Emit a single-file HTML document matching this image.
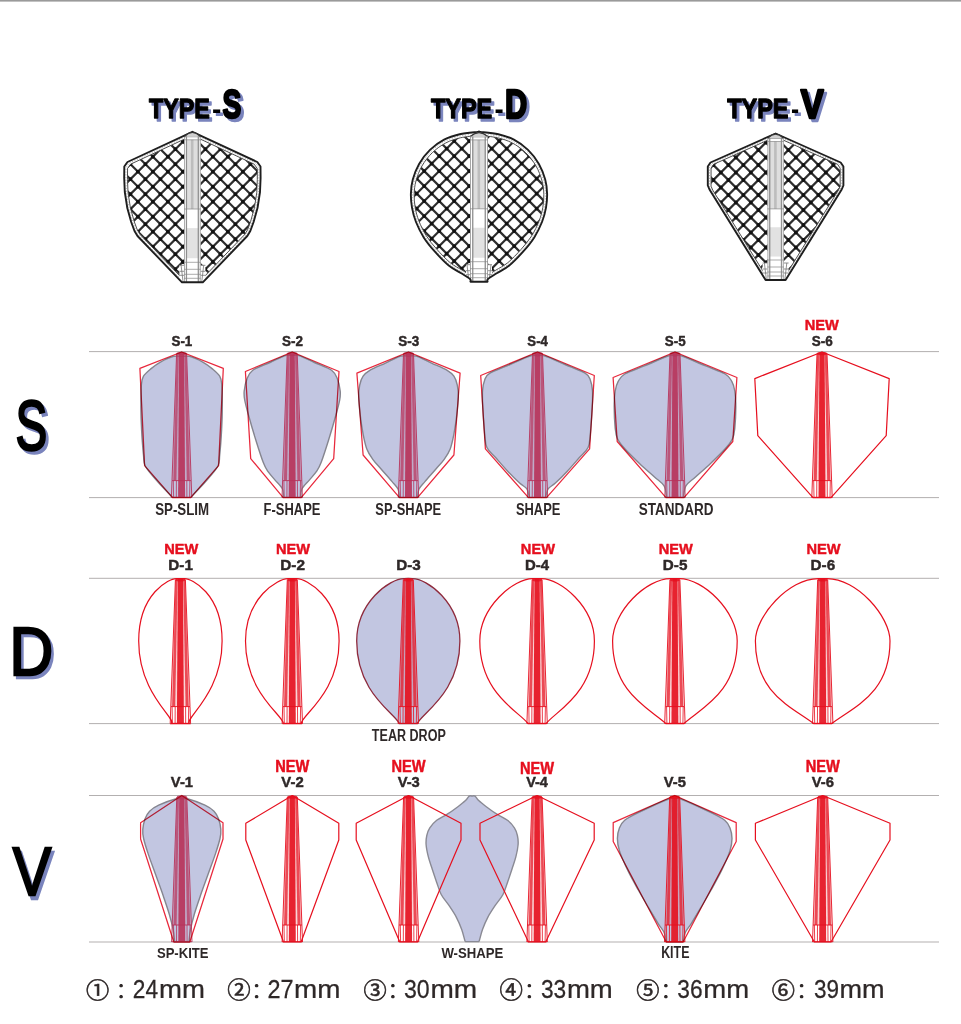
<!DOCTYPE html>
<html><head><meta charset="utf-8"><title>Flight shapes</title>
<style>html,body{margin:0;padding:0;background:#fff;overflow:hidden;width:961px;height:1024px;}svg{display:block;}</style>
</head><body>
<svg width="961" height="1024" viewBox="0 0 961 1024">
<rect width="961" height="1024" fill="#fff"/>
<rect x="0" y="0" width="961" height="1.6" fill="#9a9a9a"/>
<rect x="89" y="351.10" width="850" height="1" fill="#b3b0b0"/>
<rect x="89" y="497.10" width="850" height="1" fill="#b3b0b0"/>
<rect x="89" y="577.80" width="850" height="1" fill="#b3b0b0"/>
<rect x="89" y="723.10" width="850" height="1" fill="#b3b0b0"/>
<rect x="89" y="795.00" width="850" height="1" fill="#b3b0b0"/>
<rect x="89" y="941.50" width="850" height="1" fill="#b3b0b0"/>
<path d="M181.60,356.40 C180.28,356.40 177.30,355.42 173.70,356.40 C170.10,357.38 163.82,360.22 160.00,362.30 C156.18,364.38 153.55,366.58 150.80,368.90 C148.05,371.22 145.07,373.60 143.50,376.20 C141.93,378.80 141.83,379.30 141.40,384.50 C140.97,389.70 140.87,399.82 140.90,407.40 C140.93,414.98 141.17,422.07 141.60,430.00 C142.03,437.93 142.85,448.92 143.50,455.00 C144.15,461.08 143.08,462.00 145.50,466.50 C147.92,471.00 153.50,476.85 158.00,482.00 C162.50,487.15 170.08,494.83 172.50,497.40 L190.70,497.40 C193.12,494.83 200.70,487.15 205.20,482.00 C209.70,476.85 215.28,471.00 217.70,466.50 C220.12,462.00 219.05,461.08 219.70,455.00 C220.35,448.92 221.17,437.93 221.60,430.00 C222.03,422.07 222.27,414.98 222.30,407.40 C222.33,399.82 222.23,389.70 221.80,384.50 C221.37,379.30 221.27,378.80 219.70,376.20 C218.13,373.60 215.15,371.22 212.40,368.90 C209.65,366.58 207.02,364.38 203.20,362.30 C199.38,360.22 193.10,357.38 189.50,356.40 C185.90,355.42 182.92,356.40 181.60,356.40 Z" fill="#c2c6e1" stroke="#85858f" stroke-width="1.4"/>
<path d="M179.00,352.50 L184.20,352.50 L185.10,497.60 L178.10,497.60 Z" fill="#b8325a" opacity="0.9"/>
<path d="M176.60,353.50 L186.60,353.50 L191.20,480.60 L172.00,480.60 Z" fill="#b8325a" opacity="0.18"/>
<path d="M178.80,353.00 L176.80,353.00 L173.30,480.60 L176.40,480.60 Z" fill="#b8325a" opacity="0.7"/>
<path d="M176.60,353.50 L172.00,480.60 L171.40,497.60" fill="none" stroke="#b8325a" stroke-width="0.9"/>
<path d="M173.30,480.60 L173.60,497.60 M176.40,480.60 L176.30,497.60" fill="none" stroke="#b8325a" stroke-width="0.8"/>
<path d="M184.40,353.00 L186.40,353.00 L189.90,480.60 L186.80,480.60 Z" fill="#b8325a" opacity="0.7"/>
<path d="M186.60,353.50 L191.20,480.60 L191.80,497.60" fill="none" stroke="#b8325a" stroke-width="0.9"/>
<path d="M189.90,480.60 L189.60,497.60 M186.80,480.60 L186.90,497.60" fill="none" stroke="#b8325a" stroke-width="0.8"/>
<path d="M172.00,480.60 L191.20,480.60 M171.40,497.30 L191.80,497.30" stroke="#b8325a" stroke-width="0.9"/>
<ellipse cx="181.60" cy="353.50" rx="5" ry="1.8" fill="#b8325a" opacity="0.8"/>
<path d="M181.60,352.00 L139.90,368.40 L144.60,465.60 L172.60,497.60 L190.60,497.60 L218.60,465.60 L223.30,368.40 Z" fill="none" stroke="#e8283c" stroke-width="1.25" stroke-linejoin="round" style="mix-blend-mode:multiply"/>
<path d="M292.20,355.60 C291.08,355.60 289.20,354.45 285.50,355.60 C281.80,356.75 275.45,360.05 270.00,362.50 C264.55,364.95 256.65,367.52 252.80,370.30 C248.95,373.08 248.33,375.75 246.90,379.20 C245.47,382.65 244.57,387.53 244.20,391.00 C243.83,394.47 244.00,396.03 244.70,400.00 C245.40,403.97 246.55,408.13 248.40,414.80 C250.25,421.47 253.33,432.08 255.80,440.00 C258.27,447.92 261.22,457.10 263.20,462.30 C265.18,467.50 265.72,468.23 267.70,471.20 C269.68,474.17 272.63,477.13 275.10,480.10 C277.57,483.07 281.10,486.12 282.50,489.00 C283.90,491.88 283.33,496.00 283.50,497.40 L300.90,497.40 C301.07,496.00 300.50,491.88 301.90,489.00 C303.30,486.12 306.83,483.07 309.30,480.10 C311.77,477.13 314.72,474.17 316.70,471.20 C318.68,468.23 319.22,467.50 321.20,462.30 C323.18,457.10 326.13,447.92 328.60,440.00 C331.07,432.08 334.15,421.47 336.00,414.80 C337.85,408.13 339.00,403.97 339.70,400.00 C340.40,396.03 340.57,394.47 340.20,391.00 C339.83,387.53 338.93,382.65 337.50,379.20 C336.07,375.75 335.45,373.08 331.60,370.30 C327.75,367.52 319.85,364.95 314.40,362.50 C308.95,360.05 302.60,356.75 298.90,355.60 C295.20,354.45 293.32,355.60 292.20,355.60 Z" fill="#c2c6e1" stroke="#85858f" stroke-width="1.4"/>
<path d="M289.60,352.50 L294.80,352.50 L295.70,497.60 L288.70,497.60 Z" fill="#b8325a" opacity="0.9"/>
<path d="M287.20,353.50 L297.20,353.50 L301.80,480.60 L282.60,480.60 Z" fill="#b8325a" opacity="0.18"/>
<path d="M289.40,353.00 L287.40,353.00 L283.90,480.60 L287.00,480.60 Z" fill="#b8325a" opacity="0.7"/>
<path d="M287.20,353.50 L282.60,480.60 L282.00,497.60" fill="none" stroke="#b8325a" stroke-width="0.9"/>
<path d="M283.90,480.60 L284.20,497.60 M287.00,480.60 L286.90,497.60" fill="none" stroke="#b8325a" stroke-width="0.8"/>
<path d="M295.00,353.00 L297.00,353.00 L300.50,480.60 L297.40,480.60 Z" fill="#b8325a" opacity="0.7"/>
<path d="M297.20,353.50 L301.80,480.60 L302.40,497.60" fill="none" stroke="#b8325a" stroke-width="0.9"/>
<path d="M300.50,480.60 L300.20,497.60 M297.40,480.60 L297.50,497.60" fill="none" stroke="#b8325a" stroke-width="0.8"/>
<path d="M282.60,480.60 L301.80,480.60 M282.00,497.30 L302.40,497.30" stroke="#b8325a" stroke-width="0.9"/>
<ellipse cx="292.20" cy="353.50" rx="5" ry="1.8" fill="#b8325a" opacity="0.8"/>
<path d="M292.20,352.00 L245.40,371.50 L250.70,458.60 L283.20,497.60 L301.20,497.60 L333.70,458.60 L339.00,371.50 Z" fill="none" stroke="#e8283c" stroke-width="1.25" stroke-linejoin="round" style="mix-blend-mode:multiply"/>
<path d="M408.50,356.20 C407.25,356.20 404.92,355.02 401.00,356.20 C397.08,357.38 390.20,360.95 385.00,363.30 C379.80,365.65 373.45,368.15 369.80,370.30 C366.15,372.45 364.78,373.73 363.10,376.20 C361.42,378.67 360.43,381.63 359.70,385.10 C358.97,388.57 358.62,392.05 358.70,397.00 C358.78,401.95 359.47,408.62 360.20,414.80 C360.93,420.98 362.00,428.42 363.10,434.10 C364.20,439.78 365.18,444.70 366.80,448.90 C368.42,453.10 370.32,455.83 372.80,459.30 C375.28,462.77 378.48,465.98 381.70,469.70 C384.92,473.42 389.38,478.38 392.10,481.60 C394.82,484.82 396.77,486.37 398.00,489.00 C399.23,491.63 399.25,496.00 399.50,497.40 L417.50,497.40 C417.75,496.00 417.77,491.63 419.00,489.00 C420.23,486.37 422.18,484.82 424.90,481.60 C427.62,478.38 432.08,473.42 435.30,469.70 C438.52,465.98 441.72,462.77 444.20,459.30 C446.68,455.83 448.58,453.10 450.20,448.90 C451.82,444.70 452.80,439.78 453.90,434.10 C455.00,428.42 456.07,420.98 456.80,414.80 C457.53,408.62 458.22,401.95 458.30,397.00 C458.38,392.05 458.03,388.57 457.30,385.10 C456.57,381.63 455.58,378.67 453.90,376.20 C452.22,373.73 450.85,372.45 447.20,370.30 C443.55,368.15 437.20,365.65 432.00,363.30 C426.80,360.95 419.92,357.38 416.00,356.20 C412.08,355.02 409.75,356.20 408.50,356.20 Z" fill="#c2c6e1" stroke="#85858f" stroke-width="1.4"/>
<path d="M405.90,352.50 L411.10,352.50 L412.00,497.60 L405.00,497.60 Z" fill="#b8325a" opacity="0.9"/>
<path d="M403.50,353.50 L413.50,353.50 L418.10,480.60 L398.90,480.60 Z" fill="#b8325a" opacity="0.18"/>
<path d="M405.70,353.00 L403.70,353.00 L400.20,480.60 L403.30,480.60 Z" fill="#b8325a" opacity="0.7"/>
<path d="M403.50,353.50 L398.90,480.60 L398.30,497.60" fill="none" stroke="#b8325a" stroke-width="0.9"/>
<path d="M400.20,480.60 L400.50,497.60 M403.30,480.60 L403.20,497.60" fill="none" stroke="#b8325a" stroke-width="0.8"/>
<path d="M411.30,353.00 L413.30,353.00 L416.80,480.60 L413.70,480.60 Z" fill="#b8325a" opacity="0.7"/>
<path d="M413.50,353.50 L418.10,480.60 L418.70,497.60" fill="none" stroke="#b8325a" stroke-width="0.9"/>
<path d="M416.80,480.60 L416.50,497.60 M413.70,480.60 L413.80,497.60" fill="none" stroke="#b8325a" stroke-width="0.8"/>
<path d="M398.90,480.60 L418.10,480.60 M398.30,497.30 L418.70,497.30" stroke="#b8325a" stroke-width="0.9"/>
<ellipse cx="408.50" cy="353.50" rx="5" ry="1.8" fill="#b8325a" opacity="0.8"/>
<path d="M408.50,352.00 L356.90,373.20 L363.10,455.00 L399.50,497.60 L417.50,497.60 L453.90,455.00 L460.10,373.20 Z" fill="none" stroke="#e8283c" stroke-width="1.25" stroke-linejoin="round" style="mix-blend-mode:multiply"/>
<path d="M537.50,356.00 C536.25,356.00 534.58,354.58 530.00,356.00 C525.42,357.42 516.68,361.63 510.00,364.50 C503.32,367.37 494.12,370.63 489.90,373.20 C485.68,375.77 485.93,376.93 484.70,379.90 C483.47,382.87 482.82,386.42 482.50,391.00 C482.18,395.58 482.43,400.22 482.80,407.40 C483.17,414.58 484.02,427.42 484.70,434.10 C485.38,440.78 485.05,443.55 486.90,447.50 C488.75,451.45 492.33,453.85 495.80,457.80 C499.27,461.75 503.73,466.98 507.70,471.20 C511.67,475.42 516.38,480.13 519.60,483.10 C522.82,486.07 525.40,486.62 527.00,489.00 C528.60,491.38 528.83,496.00 529.20,497.40 L545.80,497.40 C546.17,496.00 546.40,491.38 548.00,489.00 C549.60,486.62 552.18,486.07 555.40,483.10 C558.62,480.13 563.33,475.42 567.30,471.20 C571.27,466.98 575.73,461.75 579.20,457.80 C582.67,453.85 586.25,451.45 588.10,447.50 C589.95,443.55 589.62,440.78 590.30,434.10 C590.98,427.42 591.83,414.58 592.20,407.40 C592.57,400.22 592.82,395.58 592.50,391.00 C592.18,386.42 591.53,382.87 590.30,379.90 C589.07,376.93 589.32,375.77 585.10,373.20 C580.88,370.63 571.68,367.37 565.00,364.50 C558.32,361.63 549.58,357.42 545.00,356.00 C540.42,354.58 538.75,356.00 537.50,356.00 Z" fill="#c2c6e1" stroke="#85858f" stroke-width="1.4"/>
<path d="M534.90,352.50 L540.10,352.50 L541.00,497.60 L534.00,497.60 Z" fill="#b8325a" opacity="0.9"/>
<path d="M532.50,353.50 L542.50,353.50 L547.10,480.60 L527.90,480.60 Z" fill="#b8325a" opacity="0.18"/>
<path d="M534.70,353.00 L532.70,353.00 L529.20,480.60 L532.30,480.60 Z" fill="#b8325a" opacity="0.7"/>
<path d="M532.50,353.50 L527.90,480.60 L527.30,497.60" fill="none" stroke="#b8325a" stroke-width="0.9"/>
<path d="M529.20,480.60 L529.50,497.60 M532.30,480.60 L532.20,497.60" fill="none" stroke="#b8325a" stroke-width="0.8"/>
<path d="M540.30,353.00 L542.30,353.00 L545.80,480.60 L542.70,480.60 Z" fill="#b8325a" opacity="0.7"/>
<path d="M542.50,353.50 L547.10,480.60 L547.70,497.60" fill="none" stroke="#b8325a" stroke-width="0.9"/>
<path d="M545.80,480.60 L545.50,497.60 M542.70,480.60 L542.80,497.60" fill="none" stroke="#b8325a" stroke-width="0.8"/>
<path d="M527.90,480.60 L547.10,480.60 M527.30,497.30 L547.70,497.30" stroke="#b8325a" stroke-width="0.9"/>
<ellipse cx="537.50" cy="353.50" rx="5" ry="1.8" fill="#b8325a" opacity="0.8"/>
<path d="M537.50,352.00 L480.70,375.50 L485.40,448.90 L528.50,497.60 L546.50,497.60 L589.60,448.90 L594.30,375.50 Z" fill="none" stroke="#e8283c" stroke-width="1.25" stroke-linejoin="round" style="mix-blend-mode:multiply"/>
<path d="M675.00,356.00 C673.83,356.00 673.00,354.38 668.00,356.00 C663.00,357.62 652.20,362.70 645.00,365.70 C637.80,368.70 629.27,371.38 624.80,374.00 C620.33,376.62 619.80,378.57 618.20,381.40 C616.60,384.23 615.87,386.68 615.20,391.00 C614.53,395.32 614.20,401.12 614.20,407.30 C614.20,413.48 614.67,422.90 615.20,428.10 C615.73,433.30 615.80,435.05 617.40,438.50 C619.00,441.95 621.08,444.60 624.80,448.80 C628.52,453.00 634.75,459.00 639.70,463.70 C644.65,468.40 650.43,473.30 654.50,477.00 C658.57,480.70 662.10,482.50 664.10,485.90 C666.10,489.30 666.10,495.48 666.50,497.40 L683.50,497.40 C683.90,495.48 683.90,489.30 685.90,485.90 C687.90,482.50 691.43,480.70 695.50,477.00 C699.57,473.30 705.35,468.40 710.30,463.70 C715.25,459.00 721.48,453.00 725.20,448.80 C728.92,444.60 731.00,441.95 732.60,438.50 C734.20,435.05 734.27,433.30 734.80,428.10 C735.33,422.90 735.80,413.48 735.80,407.30 C735.80,401.12 735.47,395.32 734.80,391.00 C734.13,386.68 733.40,384.23 731.80,381.40 C730.20,378.57 729.67,376.62 725.20,374.00 C720.73,371.38 712.20,368.70 705.00,365.70 C697.80,362.70 687.00,357.62 682.00,356.00 C677.00,354.38 676.17,356.00 675.00,356.00 Z" fill="#c2c6e1" stroke="#85858f" stroke-width="1.4"/>
<path d="M672.40,352.50 L677.60,352.50 L678.50,497.60 L671.50,497.60 Z" fill="#b8325a" opacity="0.9"/>
<path d="M670.00,353.50 L680.00,353.50 L684.60,480.60 L665.40,480.60 Z" fill="#b8325a" opacity="0.18"/>
<path d="M672.20,353.00 L670.20,353.00 L666.70,480.60 L669.80,480.60 Z" fill="#b8325a" opacity="0.7"/>
<path d="M670.00,353.50 L665.40,480.60 L664.80,497.60" fill="none" stroke="#b8325a" stroke-width="0.9"/>
<path d="M666.70,480.60 L667.00,497.60 M669.80,480.60 L669.70,497.60" fill="none" stroke="#b8325a" stroke-width="0.8"/>
<path d="M677.80,353.00 L679.80,353.00 L683.30,480.60 L680.20,480.60 Z" fill="#b8325a" opacity="0.7"/>
<path d="M680.00,353.50 L684.60,480.60 L685.20,497.60" fill="none" stroke="#b8325a" stroke-width="0.9"/>
<path d="M683.30,480.60 L683.00,497.60 M680.20,480.60 L680.30,497.60" fill="none" stroke="#b8325a" stroke-width="0.8"/>
<path d="M665.40,480.60 L684.60,480.60 M664.80,497.30 L685.20,497.30" stroke="#b8325a" stroke-width="0.9"/>
<ellipse cx="675.00" cy="353.50" rx="5" ry="1.8" fill="#b8325a" opacity="0.8"/>
<path d="M675.00,352.00 L613.10,377.50 L617.20,441.50 L666.00,497.60 L684.00,497.60 L732.80,441.50 L736.90,377.50 Z" fill="none" stroke="#e8283c" stroke-width="1.25" stroke-linejoin="round" style="mix-blend-mode:multiply"/>
<path d="M819.40,352.50 L824.60,352.50 L825.50,497.60 L818.50,497.60 Z" fill="#e60f1e" opacity="0.9"/>
<path d="M817.00,353.50 L827.00,353.50 L831.60,480.60 L812.40,480.60 Z" fill="#e60f1e" opacity="0.18"/>
<path d="M819.20,353.00 L817.20,353.00 L813.70,480.60 L816.80,480.60 Z" fill="#e60f1e" opacity="0.7"/>
<path d="M817.00,353.50 L812.40,480.60 L811.80,497.60" fill="none" stroke="#e60f1e" stroke-width="0.9"/>
<path d="M813.70,480.60 L814.00,497.60 M816.80,480.60 L816.70,497.60" fill="none" stroke="#e60f1e" stroke-width="0.8"/>
<path d="M824.80,353.00 L826.80,353.00 L830.30,480.60 L827.20,480.60 Z" fill="#e60f1e" opacity="0.7"/>
<path d="M827.00,353.50 L831.60,480.60 L832.20,497.60" fill="none" stroke="#e60f1e" stroke-width="0.9"/>
<path d="M830.30,480.60 L830.00,497.60 M827.20,480.60 L827.30,497.60" fill="none" stroke="#e60f1e" stroke-width="0.8"/>
<path d="M812.40,480.60 L831.60,480.60 M811.80,497.30 L832.20,497.30" stroke="#e60f1e" stroke-width="0.9"/>
<ellipse cx="822.00" cy="353.50" rx="5" ry="1.8" fill="#e60f1e" opacity="0.8"/>
<path d="M822.00,352.00 L754.80,378.60 L757.80,435.60 L813.00,497.60 L831.00,497.60 L886.20,435.60 L889.20,378.60 Z" fill="none" stroke="#e60f1e" stroke-width="1.2" stroke-linejoin="round"/>
<path d="M177.80,578.80 L183.00,578.80 L183.90,723.60 L176.90,723.60 Z" fill="#e60f1e" opacity="0.9"/>
<path d="M175.40,579.80 L185.40,579.80 L190.00,706.60 L170.80,706.60 Z" fill="#e60f1e" opacity="0.18"/>
<path d="M177.60,579.30 L175.60,579.30 L172.10,706.60 L175.20,706.60 Z" fill="#e60f1e" opacity="0.7"/>
<path d="M175.40,579.80 L170.80,706.60 L170.20,723.60" fill="none" stroke="#e60f1e" stroke-width="0.9"/>
<path d="M172.10,706.60 L172.40,723.60 M175.20,706.60 L175.10,723.60" fill="none" stroke="#e60f1e" stroke-width="0.8"/>
<path d="M183.20,579.30 L185.20,579.30 L188.70,706.60 L185.60,706.60 Z" fill="#e60f1e" opacity="0.7"/>
<path d="M185.40,579.80 L190.00,706.60 L190.60,723.60" fill="none" stroke="#e60f1e" stroke-width="0.9"/>
<path d="M188.70,706.60 L188.40,723.60 M185.60,706.60 L185.70,723.60" fill="none" stroke="#e60f1e" stroke-width="0.8"/>
<path d="M170.80,706.60 L190.00,706.60 M170.20,723.30 L190.60,723.30" stroke="#e60f1e" stroke-width="0.9"/>
<ellipse cx="180.40" cy="579.80" rx="5" ry="1.8" fill="#e60f1e" opacity="0.8"/>
<path d="M180.40,578.50 L184.40,578.60 C191.24,578.30 222.10,593.20 222.10,641.00 C222.10,694.00 184.15,718.60 189.40,723.60 L171.40,723.60 C176.65,718.60 138.70,694.00 138.70,641.00 C138.70,593.20 169.56,578.30 176.40,578.60 Z" fill="none" stroke="#e60f1e" stroke-width="1.2"/>
<path d="M289.70,578.80 L294.90,578.80 L295.80,723.60 L288.80,723.60 Z" fill="#e60f1e" opacity="0.9"/>
<path d="M287.30,579.80 L297.30,579.80 L301.90,706.60 L282.70,706.60 Z" fill="#e60f1e" opacity="0.18"/>
<path d="M289.50,579.30 L287.50,579.30 L284.00,706.60 L287.10,706.60 Z" fill="#e60f1e" opacity="0.7"/>
<path d="M287.30,579.80 L282.70,706.60 L282.10,723.60" fill="none" stroke="#e60f1e" stroke-width="0.9"/>
<path d="M284.00,706.60 L284.30,723.60 M287.10,706.60 L287.00,723.60" fill="none" stroke="#e60f1e" stroke-width="0.8"/>
<path d="M295.10,579.30 L297.10,579.30 L300.60,706.60 L297.50,706.60 Z" fill="#e60f1e" opacity="0.7"/>
<path d="M297.30,579.80 L301.90,706.60 L302.50,723.60" fill="none" stroke="#e60f1e" stroke-width="0.9"/>
<path d="M300.60,706.60 L300.30,723.60 M297.50,706.60 L297.60,723.60" fill="none" stroke="#e60f1e" stroke-width="0.8"/>
<path d="M282.70,706.60 L301.90,706.60 M282.10,723.30 L302.50,723.30" stroke="#e60f1e" stroke-width="0.9"/>
<ellipse cx="292.30" cy="579.80" rx="5" ry="1.8" fill="#e60f1e" opacity="0.8"/>
<path d="M292.30,578.50 L296.30,578.60 C306.81,578.30 339.10,597.86 339.10,641.00 C339.10,693.80 300.16,716.12 301.30,723.60 L283.30,723.60 C284.44,716.12 245.50,693.80 245.50,641.00 C245.50,597.86 277.79,578.30 288.30,578.60 Z" fill="none" stroke="#e60f1e" stroke-width="1.2"/>
<path d="M408.30,578.50 L412.30,578.60 C426.88,578.30 459.90,602.52 459.90,641.00 C459.90,693.60 420.99,713.64 417.30,723.60 L399.30,723.60 C395.61,713.64 356.70,693.60 356.70,641.00 C356.70,602.52 389.72,578.30 404.30,578.60 Z" fill="#c2c6e1" stroke="#8e2a3c" stroke-width="1.3"/>
<path d="M405.70,578.80 L410.90,578.80 L411.80,723.60 L404.80,723.60 Z" fill="#e60f1e" opacity="0.9"/>
<path d="M403.30,579.80 L413.30,579.80 L417.90,706.60 L398.70,706.60 Z" fill="#e60f1e" opacity="0.18"/>
<path d="M405.50,579.30 L403.50,579.30 L400.00,706.60 L403.10,706.60 Z" fill="#e60f1e" opacity="0.7"/>
<path d="M403.30,579.80 L398.70,706.60 L398.10,723.60" fill="none" stroke="#e60f1e" stroke-width="0.9"/>
<path d="M400.00,706.60 L400.30,723.60 M403.10,706.60 L403.00,723.60" fill="none" stroke="#e60f1e" stroke-width="0.8"/>
<path d="M411.10,579.30 L413.10,579.30 L416.60,706.60 L413.50,706.60 Z" fill="#e60f1e" opacity="0.7"/>
<path d="M413.30,579.80 L417.90,706.60 L418.50,723.60" fill="none" stroke="#e60f1e" stroke-width="0.9"/>
<path d="M416.60,706.60 L416.30,723.60 M413.50,706.60 L413.60,723.60" fill="none" stroke="#e60f1e" stroke-width="0.8"/>
<path d="M398.70,706.60 L417.90,706.60 M398.10,723.30 L418.50,723.30" stroke="#e60f1e" stroke-width="0.9"/>
<ellipse cx="408.30" cy="579.80" rx="5" ry="1.8" fill="#e60f1e" opacity="0.8"/>
<path d="M534.50,578.80 L539.70,578.80 L540.60,723.60 L533.60,723.60 Z" fill="#e60f1e" opacity="0.9"/>
<path d="M532.10,579.80 L542.10,579.80 L546.70,706.60 L527.50,706.60 Z" fill="#e60f1e" opacity="0.18"/>
<path d="M534.30,579.30 L532.30,579.30 L528.80,706.60 L531.90,706.60 Z" fill="#e60f1e" opacity="0.7"/>
<path d="M532.10,579.80 L527.50,706.60 L526.90,723.60" fill="none" stroke="#e60f1e" stroke-width="0.9"/>
<path d="M528.80,706.60 L529.10,723.60 M531.90,706.60 L531.80,723.60" fill="none" stroke="#e60f1e" stroke-width="0.8"/>
<path d="M539.90,579.30 L541.90,579.30 L545.40,706.60 L542.30,706.60 Z" fill="#e60f1e" opacity="0.7"/>
<path d="M542.10,579.80 L546.70,706.60 L547.30,723.60" fill="none" stroke="#e60f1e" stroke-width="0.9"/>
<path d="M545.40,706.60 L545.10,723.60 M542.30,706.60 L542.40,723.60" fill="none" stroke="#e60f1e" stroke-width="0.8"/>
<path d="M527.50,706.60 L546.70,706.60 M526.90,723.30 L547.30,723.30" stroke="#e60f1e" stroke-width="0.9"/>
<ellipse cx="537.10" cy="579.80" rx="5" ry="1.8" fill="#e60f1e" opacity="0.8"/>
<path d="M537.10,578.50 L541.10,578.60 C560.59,578.30 594.40,607.18 594.40,641.00 C594.40,693.40 555.67,711.16 546.10,723.60 L528.10,723.60 C518.53,711.16 479.80,693.40 479.80,641.00 C479.80,607.18 513.61,578.30 533.10,578.60 Z" fill="none" stroke="#e60f1e" stroke-width="1.2"/>
<path d="M672.30,578.80 L677.50,578.80 L678.40,723.60 L671.40,723.60 Z" fill="#e60f1e" opacity="0.9"/>
<path d="M669.90,579.80 L679.90,579.80 L684.50,706.60 L665.30,706.60 Z" fill="#e60f1e" opacity="0.18"/>
<path d="M672.10,579.30 L670.10,579.30 L666.60,706.60 L669.70,706.60 Z" fill="#e60f1e" opacity="0.7"/>
<path d="M669.90,579.80 L665.30,706.60 L664.70,723.60" fill="none" stroke="#e60f1e" stroke-width="0.9"/>
<path d="M666.60,706.60 L666.90,723.60 M669.70,706.60 L669.60,723.60" fill="none" stroke="#e60f1e" stroke-width="0.8"/>
<path d="M677.70,579.30 L679.70,579.30 L683.20,706.60 L680.10,706.60 Z" fill="#e60f1e" opacity="0.7"/>
<path d="M679.90,579.80 L684.50,706.60 L685.10,723.60" fill="none" stroke="#e60f1e" stroke-width="0.9"/>
<path d="M683.20,706.60 L682.90,723.60 M680.10,706.60 L680.20,723.60" fill="none" stroke="#e60f1e" stroke-width="0.8"/>
<path d="M665.30,706.60 L684.50,706.60 M664.70,723.30 L685.10,723.30" stroke="#e60f1e" stroke-width="0.9"/>
<ellipse cx="674.90" cy="579.80" rx="5" ry="1.8" fill="#e60f1e" opacity="0.8"/>
<path d="M674.90,578.50 L678.90,578.60 C703.56,578.30 737.20,611.84 737.20,641.00 C737.20,693.20 699.94,708.68 683.90,723.60 L665.90,723.60 C649.86,708.68 612.60,693.20 612.60,641.00 C612.60,611.84 646.24,578.30 670.90,578.60 Z" fill="none" stroke="#e60f1e" stroke-width="1.2"/>
<path d="M820.10,578.80 L825.30,578.80 L826.20,723.60 L819.20,723.60 Z" fill="#e60f1e" opacity="0.9"/>
<path d="M817.70,579.80 L827.70,579.80 L832.30,706.60 L813.10,706.60 Z" fill="#e60f1e" opacity="0.18"/>
<path d="M819.90,579.30 L817.90,579.30 L814.40,706.60 L817.50,706.60 Z" fill="#e60f1e" opacity="0.7"/>
<path d="M817.70,579.80 L813.10,706.60 L812.50,723.60" fill="none" stroke="#e60f1e" stroke-width="0.9"/>
<path d="M814.40,706.60 L814.70,723.60 M817.50,706.60 L817.40,723.60" fill="none" stroke="#e60f1e" stroke-width="0.8"/>
<path d="M825.50,579.30 L827.50,579.30 L831.00,706.60 L827.90,706.60 Z" fill="#e60f1e" opacity="0.7"/>
<path d="M827.70,579.80 L832.30,706.60 L832.90,723.60" fill="none" stroke="#e60f1e" stroke-width="0.9"/>
<path d="M831.00,706.60 L830.70,723.60 M827.90,706.60 L828.00,723.60" fill="none" stroke="#e60f1e" stroke-width="0.8"/>
<path d="M813.10,706.60 L832.30,706.60 M812.50,723.30 L832.90,723.30" stroke="#e60f1e" stroke-width="0.9"/>
<ellipse cx="822.70" cy="579.80" rx="5" ry="1.8" fill="#e60f1e" opacity="0.8"/>
<path d="M822.70,578.50 L826.70,578.60 C857.02,578.30 890.00,616.50 890.00,641.00 C890.00,693.00 855.00,706.20 831.70,723.60 L813.70,723.60 C790.40,706.20 755.40,693.00 755.40,641.00 C755.40,616.50 788.38,578.30 818.70,578.60 Z" fill="none" stroke="#e60f1e" stroke-width="1.2"/>
<path d="M472.10,796.10 C471.62,796.10 470.30,795.35 469.20,796.10 C468.10,796.85 467.38,798.83 465.50,800.60 C463.62,802.37 460.93,804.43 457.90,806.70 C454.87,808.97 450.83,811.93 447.30,814.20 C443.77,816.47 439.62,818.02 436.70,820.30 C433.78,822.58 431.45,825.37 429.80,827.90 C428.15,830.43 427.42,832.73 426.80,835.50 C426.18,838.27 425.85,840.97 426.10,844.50 C426.35,848.03 427.30,852.65 428.30,856.70 C429.30,860.75 430.70,864.52 432.10,868.80 C433.50,873.08 435.18,878.12 436.70,882.40 C438.22,886.68 439.18,890.70 441.20,894.50 C443.22,898.30 446.27,901.40 448.80,905.20 C451.33,909.00 454.25,913.27 456.40,917.30 C458.55,921.33 460.32,925.62 461.70,929.40 C463.08,933.18 464.07,937.97 464.70,940.00 C465.33,942.03 465.37,941.33 465.50,941.60 L478.70,941.60 C478.83,941.33 478.87,942.03 479.50,940.00 C480.13,937.97 481.12,933.18 482.50,929.40 C483.88,925.62 485.65,921.33 487.80,917.30 C489.95,913.27 492.87,909.00 495.40,905.20 C497.93,901.40 500.98,898.30 503.00,894.50 C505.02,890.70 505.98,886.68 507.50,882.40 C509.02,878.12 510.70,873.08 512.10,868.80 C513.50,864.52 514.90,860.75 515.90,856.70 C516.90,852.65 517.85,848.03 518.10,844.50 C518.35,840.97 518.02,838.27 517.40,835.50 C516.78,832.73 516.05,830.43 514.40,827.90 C512.75,825.37 510.42,822.58 507.50,820.30 C504.58,818.02 500.43,816.47 496.90,814.20 C493.37,811.93 489.33,808.97 486.30,806.70 C483.27,804.43 480.58,802.37 478.70,800.60 C476.82,798.83 476.10,796.85 475.00,796.10 C473.90,795.35 472.58,796.10 472.10,796.10 Z" fill="#c2c6e1" stroke="#8a8a94" stroke-width="1.4"/>
<path d="M181.80,799.00 C180.73,799.00 179.25,797.97 175.40,799.00 C171.55,800.03 163.00,803.17 158.70,805.20 C154.40,807.23 151.87,808.93 149.60,811.20 C147.33,813.47 146.23,815.77 145.10,818.80 C143.97,821.83 143.05,826.12 142.80,829.40 C142.55,832.68 142.72,834.47 143.60,838.50 C144.48,842.53 146.08,847.55 148.10,853.60 C150.12,859.65 153.17,867.73 155.70,874.80 C158.23,881.87 161.03,889.43 163.30,896.00 C165.57,902.57 167.67,908.63 169.30,914.20 C170.93,919.77 172.22,924.83 173.10,929.40 C173.98,933.97 174.35,939.57 174.60,941.60 L189.00,941.60 C189.25,939.57 189.62,933.97 190.50,929.40 C191.38,924.83 192.67,919.77 194.30,914.20 C195.93,908.63 198.03,902.57 200.30,896.00 C202.57,889.43 205.37,881.87 207.90,874.80 C210.43,867.73 213.48,859.65 215.50,853.60 C217.52,847.55 219.12,842.53 220.00,838.50 C220.88,834.47 221.05,832.68 220.80,829.40 C220.55,826.12 219.63,821.83 218.50,818.80 C217.37,815.77 216.27,813.47 214.00,811.20 C211.73,808.93 209.20,807.23 204.90,805.20 C200.60,803.17 192.05,800.03 188.20,799.00 C184.35,797.97 182.87,799.00 181.80,799.00 Z" fill="#c2c6e1" stroke="#85858f" stroke-width="1.4"/>
<path d="M179.20,796.00 L184.40,796.00 L185.30,942.00 L178.30,942.00 Z" fill="#b8325a" opacity="0.9"/>
<path d="M176.80,797.00 L186.80,797.00 L191.40,925.00 L172.20,925.00 Z" fill="#b8325a" opacity="0.18"/>
<path d="M179.00,796.50 L177.00,796.50 L173.50,925.00 L176.60,925.00 Z" fill="#b8325a" opacity="0.7"/>
<path d="M176.80,797.00 L172.20,925.00 L171.60,942.00" fill="none" stroke="#b8325a" stroke-width="0.9"/>
<path d="M173.50,925.00 L173.80,942.00 M176.60,925.00 L176.50,942.00" fill="none" stroke="#b8325a" stroke-width="0.8"/>
<path d="M184.60,796.50 L186.60,796.50 L190.10,925.00 L187.00,925.00 Z" fill="#b8325a" opacity="0.7"/>
<path d="M186.80,797.00 L191.40,925.00 L192.00,942.00" fill="none" stroke="#b8325a" stroke-width="0.9"/>
<path d="M190.10,925.00 L189.80,942.00 M187.00,925.00 L187.10,942.00" fill="none" stroke="#b8325a" stroke-width="0.8"/>
<path d="M172.20,925.00 L191.40,925.00 M171.60,941.70 L192.00,941.70" stroke="#b8325a" stroke-width="0.9"/>
<ellipse cx="181.80" cy="797.00" rx="5" ry="1.8" fill="#b8325a" opacity="0.8"/>
<path d="M181.80,795.50 L140.60,822.80 L140.60,839.00 L173.80,942.00 L189.80,942.00 L223.00,839.00 L223.00,822.80 Z" fill="none" stroke="#e8283c" stroke-width="1.25" stroke-linejoin="round" style="mix-blend-mode:multiply"/>
<path d="M289.70,796.00 L294.90,796.00 L295.80,942.00 L288.80,942.00 Z" fill="#e60f1e" opacity="0.9"/>
<path d="M287.30,797.00 L297.30,797.00 L301.90,925.00 L282.70,925.00 Z" fill="#e60f1e" opacity="0.18"/>
<path d="M289.50,796.50 L287.50,796.50 L284.00,925.00 L287.10,925.00 Z" fill="#e60f1e" opacity="0.7"/>
<path d="M287.30,797.00 L282.70,925.00 L282.10,942.00" fill="none" stroke="#e60f1e" stroke-width="0.9"/>
<path d="M284.00,925.00 L284.30,942.00 M287.10,925.00 L287.00,942.00" fill="none" stroke="#e60f1e" stroke-width="0.8"/>
<path d="M295.10,796.50 L297.10,796.50 L300.60,925.00 L297.50,925.00 Z" fill="#e60f1e" opacity="0.7"/>
<path d="M297.30,797.00 L301.90,925.00 L302.50,942.00" fill="none" stroke="#e60f1e" stroke-width="0.9"/>
<path d="M300.60,925.00 L300.30,942.00 M297.50,925.00 L297.60,942.00" fill="none" stroke="#e60f1e" stroke-width="0.8"/>
<path d="M282.70,925.00 L301.90,925.00 M282.10,941.70 L302.50,941.70" stroke="#e60f1e" stroke-width="0.9"/>
<ellipse cx="292.30" cy="797.00" rx="5" ry="1.8" fill="#e60f1e" opacity="0.8"/>
<path d="M292.30,795.50 L245.80,823.30 L245.80,840.00 L283.50,942.00 L301.10,942.00 L338.80,840.00 L338.80,823.30 Z" fill="none" stroke="#e60f1e" stroke-width="1.2" stroke-linejoin="round"/>
<path d="M406.00,796.00 L411.20,796.00 L412.10,942.00 L405.10,942.00 Z" fill="#e60f1e" opacity="0.9"/>
<path d="M403.60,797.00 L413.60,797.00 L418.20,925.00 L399.00,925.00 Z" fill="#e60f1e" opacity="0.18"/>
<path d="M405.80,796.50 L403.80,796.50 L400.30,925.00 L403.40,925.00 Z" fill="#e60f1e" opacity="0.7"/>
<path d="M403.60,797.00 L399.00,925.00 L398.40,942.00" fill="none" stroke="#e60f1e" stroke-width="0.9"/>
<path d="M400.30,925.00 L400.60,942.00 M403.40,925.00 L403.30,942.00" fill="none" stroke="#e60f1e" stroke-width="0.8"/>
<path d="M411.40,796.50 L413.40,796.50 L416.90,925.00 L413.80,925.00 Z" fill="#e60f1e" opacity="0.7"/>
<path d="M413.60,797.00 L418.20,925.00 L418.80,942.00" fill="none" stroke="#e60f1e" stroke-width="0.9"/>
<path d="M416.90,925.00 L416.60,942.00 M413.80,925.00 L413.90,942.00" fill="none" stroke="#e60f1e" stroke-width="0.8"/>
<path d="M399.00,925.00 L418.20,925.00 M398.40,941.70 L418.80,941.70" stroke="#e60f1e" stroke-width="0.9"/>
<ellipse cx="408.60" cy="797.00" rx="5" ry="1.8" fill="#e60f1e" opacity="0.8"/>
<path d="M408.60,795.50 L356.20,823.30 L356.20,840.00 L399.80,942.00 L417.40,942.00 L461.00,840.00 L461.00,823.30 Z" fill="none" stroke="#e60f1e" stroke-width="1.2" stroke-linejoin="round"/>
<path d="M534.50,796.00 L539.70,796.00 L540.60,942.00 L533.60,942.00 Z" fill="#e60f1e" opacity="0.9"/>
<path d="M532.10,797.00 L542.10,797.00 L546.70,925.00 L527.50,925.00 Z" fill="#e60f1e" opacity="0.18"/>
<path d="M534.30,796.50 L532.30,796.50 L528.80,925.00 L531.90,925.00 Z" fill="#e60f1e" opacity="0.7"/>
<path d="M532.10,797.00 L527.50,925.00 L526.90,942.00" fill="none" stroke="#e60f1e" stroke-width="0.9"/>
<path d="M528.80,925.00 L529.10,942.00 M531.90,925.00 L531.80,942.00" fill="none" stroke="#e60f1e" stroke-width="0.8"/>
<path d="M539.90,796.50 L541.90,796.50 L545.40,925.00 L542.30,925.00 Z" fill="#e60f1e" opacity="0.7"/>
<path d="M542.10,797.00 L546.70,925.00 L547.30,942.00" fill="none" stroke="#e60f1e" stroke-width="0.9"/>
<path d="M545.40,925.00 L545.10,942.00 M542.30,925.00 L542.40,942.00" fill="none" stroke="#e60f1e" stroke-width="0.8"/>
<path d="M527.50,925.00 L546.70,925.00 M526.90,941.70 L547.30,941.70" stroke="#e60f1e" stroke-width="0.9"/>
<ellipse cx="537.10" cy="797.00" rx="5" ry="1.8" fill="#e60f1e" opacity="0.8"/>
<path d="M537.10,795.50 L480.00,823.30 L480.00,840.00 L528.50,942.00 L545.70,942.00 L594.20,840.00 L594.20,823.30 Z" fill="none" stroke="#e60f1e" stroke-width="1.2" stroke-linejoin="round"/>
<path d="M674.70,799.00 C673.68,799.00 674.67,796.72 668.60,799.00 C662.53,801.28 645.62,809.15 638.30,812.70 C630.98,816.25 627.85,817.77 624.70,820.30 C621.55,822.83 620.62,824.87 619.40,827.90 C618.18,830.93 617.40,834.72 617.40,838.50 C617.40,842.28 617.68,845.30 619.40,850.60 C621.12,855.90 624.55,863.73 627.70,870.30 C630.85,876.87 634.77,883.68 638.30,890.00 C641.83,896.32 645.62,902.65 648.90,908.20 C652.18,913.75 655.47,919.27 658.00,923.30 C660.53,927.33 662.72,929.35 664.10,932.40 C665.48,935.45 665.93,940.07 666.30,941.60 L683.10,941.60 C683.47,940.07 683.92,935.45 685.30,932.40 C686.68,929.35 688.87,927.33 691.40,923.30 C693.93,919.27 697.22,913.75 700.50,908.20 C703.78,902.65 707.57,896.32 711.10,890.00 C714.63,883.68 718.55,876.87 721.70,870.30 C724.85,863.73 728.28,855.90 730.00,850.60 C731.72,845.30 732.00,842.28 732.00,838.50 C732.00,834.72 731.22,830.93 730.00,827.90 C728.78,824.87 727.85,822.83 724.70,820.30 C721.55,817.77 718.42,816.25 711.10,812.70 C703.78,809.15 686.87,801.28 680.80,799.00 C674.73,796.72 675.72,799.00 674.70,799.00 Z" fill="#c2c6e1" stroke="#85858f" stroke-width="1.4"/>
<path d="M672.10,796.00 L677.30,796.00 L678.20,942.00 L671.20,942.00 Z" fill="#e60f1e" opacity="0.9"/>
<path d="M669.70,797.00 L679.70,797.00 L684.30,925.00 L665.10,925.00 Z" fill="#e60f1e" opacity="0.18"/>
<path d="M671.90,796.50 L669.90,796.50 L666.40,925.00 L669.50,925.00 Z" fill="#e60f1e" opacity="0.7"/>
<path d="M669.70,797.00 L665.10,925.00 L664.50,942.00" fill="none" stroke="#e60f1e" stroke-width="0.9"/>
<path d="M666.40,925.00 L666.70,942.00 M669.50,925.00 L669.40,942.00" fill="none" stroke="#e60f1e" stroke-width="0.8"/>
<path d="M677.50,796.50 L679.50,796.50 L683.00,925.00 L679.90,925.00 Z" fill="#e60f1e" opacity="0.7"/>
<path d="M679.70,797.00 L684.30,925.00 L684.90,942.00" fill="none" stroke="#e60f1e" stroke-width="0.9"/>
<path d="M683.00,925.00 L682.70,942.00 M679.90,925.00 L680.00,942.00" fill="none" stroke="#e60f1e" stroke-width="0.8"/>
<path d="M665.10,925.00 L684.30,925.00 M664.50,941.70 L684.90,941.70" stroke="#e60f1e" stroke-width="0.9"/>
<ellipse cx="674.70" cy="797.00" rx="5" ry="1.8" fill="#e60f1e" opacity="0.8"/>
<path d="M674.70,795.50 L613.20,822.60 L613.20,841.50 L666.30,942.00 L683.10,942.00 L736.20,841.50 L736.20,822.60 Z" fill="none" stroke="#e8283c" stroke-width="1.25" stroke-linejoin="round" style="mix-blend-mode:multiply"/>
<path d="M820.10,796.00 L825.30,796.00 L826.20,942.00 L819.20,942.00 Z" fill="#e60f1e" opacity="0.9"/>
<path d="M817.70,797.00 L827.70,797.00 L832.30,925.00 L813.10,925.00 Z" fill="#e60f1e" opacity="0.18"/>
<path d="M819.90,796.50 L817.90,796.50 L814.40,925.00 L817.50,925.00 Z" fill="#e60f1e" opacity="0.7"/>
<path d="M817.70,797.00 L813.10,925.00 L812.50,942.00" fill="none" stroke="#e60f1e" stroke-width="0.9"/>
<path d="M814.40,925.00 L814.70,942.00 M817.50,925.00 L817.40,942.00" fill="none" stroke="#e60f1e" stroke-width="0.8"/>
<path d="M825.50,796.50 L827.50,796.50 L831.00,925.00 L827.90,925.00 Z" fill="#e60f1e" opacity="0.7"/>
<path d="M827.70,797.00 L832.30,925.00 L832.90,942.00" fill="none" stroke="#e60f1e" stroke-width="0.9"/>
<path d="M831.00,925.00 L830.70,942.00 M827.90,925.00 L828.00,942.00" fill="none" stroke="#e60f1e" stroke-width="0.8"/>
<path d="M813.10,925.00 L832.30,925.00 M812.50,941.70 L832.90,941.70" stroke="#e60f1e" stroke-width="0.9"/>
<ellipse cx="822.70" cy="797.00" rx="5" ry="1.8" fill="#e60f1e" opacity="0.8"/>
<path d="M822.70,795.50 L755.40,823.30 L755.40,840.00 L814.40,942.00 L831.00,942.00 L890.00,840.00 L890.00,823.30 Z" fill="none" stroke="#e60f1e" stroke-width="1.2" stroke-linejoin="round"/>
<clipPath id="cS"><path d="M192.4,131.8 L127.50,162.00 L124.30,166.50 L124.20,178.00 L124.80,192.00 L127.30,208.00 L131.20,222.00 L134.50,231.00 L137.50,236.00 L182.0,282.3 L202.80,282.3 L247.30,236.00 L250.30,231.00 L253.60,222.00 L257.50,208.00 L260.00,192.00 L260.60,178.00 L260.50,166.50 L257.30,162.00 Z" transform="translate(192.4 207) scale(0.952) translate(-192.4 -207)"/></clipPath>
<clipPath id="cSo"><path d="M192.4,131.8 L127.50,162.00 L124.30,166.50 L124.20,178.00 L124.80,192.00 L127.30,208.00 L131.20,222.00 L134.50,231.00 L137.50,236.00 L182.0,282.3 L202.80,282.3 L247.30,236.00 L250.30,231.00 L253.60,222.00 L257.50,208.00 L260.00,192.00 L260.60,178.00 L260.50,166.50 L257.30,162.00 Z"/></clipPath>
<g clip-path="url(#cS)"><path d="M112.4,-18.8 L272.4,141.2 M112.4,-3.8 L272.4,156.2 M112.4,11.2 L272.4,171.2 M112.4,26.2 L272.4,186.2 M112.4,41.2 L272.4,201.2 M112.4,56.2 L272.4,216.2 M112.4,71.2 L272.4,231.2 M112.4,86.2 L272.4,246.2 M112.4,101.2 L272.4,261.2 M112.4,116.2 L272.4,276.2 M112.4,131.2 L272.4,291.2 M112.4,146.2 L272.4,306.2 M112.4,161.2 L272.4,321.2 M112.4,176.2 L272.4,336.2 M112.4,191.2 L272.4,351.2 M112.4,206.2 L272.4,366.2 M112.4,221.2 L272.4,381.2 M112.4,236.2 L272.4,396.2 M112.4,251.2 L272.4,411.2 M112.4,266.2 L272.4,426.2 M112.4,281.2 L272.4,441.2 M112.4,137.2 L272.4,-22.8 M112.4,152.2 L272.4,-7.8 M112.4,167.2 L272.4,7.2 M112.4,182.2 L272.4,22.2 M112.4,197.2 L272.4,37.2 M112.4,212.2 L272.4,52.2 M112.4,227.2 L272.4,67.2 M112.4,242.2 L272.4,82.2 M112.4,257.2 L272.4,97.2 M112.4,272.2 L272.4,112.2 M112.4,287.2 L272.4,127.2 M112.4,302.2 L272.4,142.2 M112.4,317.2 L272.4,157.2 M112.4,332.2 L272.4,172.2 M112.4,347.2 L272.4,187.2 M112.4,362.2 L272.4,202.2 M112.4,377.2 L272.4,217.2 M112.4,392.2 L272.4,232.2 M112.4,407.2 L272.4,247.2 M112.4,422.2 L272.4,262.2 M112.4,437.2 L272.4,277.2" stroke="#2e2e2e" stroke-width="2.2" fill="none"/><path d="M263.5,134.2 a1.9,1.9 0 1,0 3.8,0 a1.9,1.9 0 1,0 -3.8,0 M248.5,134.2 a1.9,1.9 0 1,0 3.8,0 a1.9,1.9 0 1,0 -3.8,0 M256.0,141.7 a1.9,1.9 0 1,0 3.8,0 a1.9,1.9 0 1,0 -3.8,0 M263.5,149.2 a1.9,1.9 0 1,0 3.8,0 a1.9,1.9 0 1,0 -3.8,0 M233.5,134.2 a1.9,1.9 0 1,0 3.8,0 a1.9,1.9 0 1,0 -3.8,0 M241.0,141.7 a1.9,1.9 0 1,0 3.8,0 a1.9,1.9 0 1,0 -3.8,0 M248.5,149.2 a1.9,1.9 0 1,0 3.8,0 a1.9,1.9 0 1,0 -3.8,0 M256.0,156.7 a1.9,1.9 0 1,0 3.8,0 a1.9,1.9 0 1,0 -3.8,0 M263.5,164.2 a1.9,1.9 0 1,0 3.8,0 a1.9,1.9 0 1,0 -3.8,0 M218.5,134.2 a1.9,1.9 0 1,0 3.8,0 a1.9,1.9 0 1,0 -3.8,0 M226.0,141.7 a1.9,1.9 0 1,0 3.8,0 a1.9,1.9 0 1,0 -3.8,0 M233.5,149.2 a1.9,1.9 0 1,0 3.8,0 a1.9,1.9 0 1,0 -3.8,0 M241.0,156.7 a1.9,1.9 0 1,0 3.8,0 a1.9,1.9 0 1,0 -3.8,0 M248.5,164.2 a1.9,1.9 0 1,0 3.8,0 a1.9,1.9 0 1,0 -3.8,0 M256.0,171.7 a1.9,1.9 0 1,0 3.8,0 a1.9,1.9 0 1,0 -3.8,0 M263.5,179.2 a1.9,1.9 0 1,0 3.8,0 a1.9,1.9 0 1,0 -3.8,0 M203.5,134.2 a1.9,1.9 0 1,0 3.8,0 a1.9,1.9 0 1,0 -3.8,0 M211.0,141.7 a1.9,1.9 0 1,0 3.8,0 a1.9,1.9 0 1,0 -3.8,0 M218.5,149.2 a1.9,1.9 0 1,0 3.8,0 a1.9,1.9 0 1,0 -3.8,0 M226.0,156.7 a1.9,1.9 0 1,0 3.8,0 a1.9,1.9 0 1,0 -3.8,0 M233.5,164.2 a1.9,1.9 0 1,0 3.8,0 a1.9,1.9 0 1,0 -3.8,0 M241.0,171.7 a1.9,1.9 0 1,0 3.8,0 a1.9,1.9 0 1,0 -3.8,0 M248.5,179.2 a1.9,1.9 0 1,0 3.8,0 a1.9,1.9 0 1,0 -3.8,0 M256.0,186.7 a1.9,1.9 0 1,0 3.8,0 a1.9,1.9 0 1,0 -3.8,0 M263.5,194.2 a1.9,1.9 0 1,0 3.8,0 a1.9,1.9 0 1,0 -3.8,0 M188.5,134.2 a1.9,1.9 0 1,0 3.8,0 a1.9,1.9 0 1,0 -3.8,0 M196.0,141.7 a1.9,1.9 0 1,0 3.8,0 a1.9,1.9 0 1,0 -3.8,0 M203.5,149.2 a1.9,1.9 0 1,0 3.8,0 a1.9,1.9 0 1,0 -3.8,0 M211.0,156.7 a1.9,1.9 0 1,0 3.8,0 a1.9,1.9 0 1,0 -3.8,0 M218.5,164.2 a1.9,1.9 0 1,0 3.8,0 a1.9,1.9 0 1,0 -3.8,0 M226.0,171.7 a1.9,1.9 0 1,0 3.8,0 a1.9,1.9 0 1,0 -3.8,0 M233.5,179.2 a1.9,1.9 0 1,0 3.8,0 a1.9,1.9 0 1,0 -3.8,0 M241.0,186.7 a1.9,1.9 0 1,0 3.8,0 a1.9,1.9 0 1,0 -3.8,0 M248.5,194.2 a1.9,1.9 0 1,0 3.8,0 a1.9,1.9 0 1,0 -3.8,0 M256.0,201.7 a1.9,1.9 0 1,0 3.8,0 a1.9,1.9 0 1,0 -3.8,0 M263.5,209.2 a1.9,1.9 0 1,0 3.8,0 a1.9,1.9 0 1,0 -3.8,0 M173.5,134.2 a1.9,1.9 0 1,0 3.8,0 a1.9,1.9 0 1,0 -3.8,0 M181.0,141.7 a1.9,1.9 0 1,0 3.8,0 a1.9,1.9 0 1,0 -3.8,0 M188.5,149.2 a1.9,1.9 0 1,0 3.8,0 a1.9,1.9 0 1,0 -3.8,0 M196.0,156.7 a1.9,1.9 0 1,0 3.8,0 a1.9,1.9 0 1,0 -3.8,0 M203.5,164.2 a1.9,1.9 0 1,0 3.8,0 a1.9,1.9 0 1,0 -3.8,0 M211.0,171.7 a1.9,1.9 0 1,0 3.8,0 a1.9,1.9 0 1,0 -3.8,0 M218.5,179.2 a1.9,1.9 0 1,0 3.8,0 a1.9,1.9 0 1,0 -3.8,0 M226.0,186.7 a1.9,1.9 0 1,0 3.8,0 a1.9,1.9 0 1,0 -3.8,0 M233.5,194.2 a1.9,1.9 0 1,0 3.8,0 a1.9,1.9 0 1,0 -3.8,0 M241.0,201.7 a1.9,1.9 0 1,0 3.8,0 a1.9,1.9 0 1,0 -3.8,0 M248.5,209.2 a1.9,1.9 0 1,0 3.8,0 a1.9,1.9 0 1,0 -3.8,0 M256.0,216.7 a1.9,1.9 0 1,0 3.8,0 a1.9,1.9 0 1,0 -3.8,0 M263.5,224.2 a1.9,1.9 0 1,0 3.8,0 a1.9,1.9 0 1,0 -3.8,0 M158.5,134.2 a1.9,1.9 0 1,0 3.8,0 a1.9,1.9 0 1,0 -3.8,0 M166.0,141.7 a1.9,1.9 0 1,0 3.8,0 a1.9,1.9 0 1,0 -3.8,0 M173.5,149.2 a1.9,1.9 0 1,0 3.8,0 a1.9,1.9 0 1,0 -3.8,0 M181.0,156.7 a1.9,1.9 0 1,0 3.8,0 a1.9,1.9 0 1,0 -3.8,0 M188.5,164.2 a1.9,1.9 0 1,0 3.8,0 a1.9,1.9 0 1,0 -3.8,0 M196.0,171.7 a1.9,1.9 0 1,0 3.8,0 a1.9,1.9 0 1,0 -3.8,0 M203.5,179.2 a1.9,1.9 0 1,0 3.8,0 a1.9,1.9 0 1,0 -3.8,0 M211.0,186.7 a1.9,1.9 0 1,0 3.8,0 a1.9,1.9 0 1,0 -3.8,0 M218.5,194.2 a1.9,1.9 0 1,0 3.8,0 a1.9,1.9 0 1,0 -3.8,0 M226.0,201.7 a1.9,1.9 0 1,0 3.8,0 a1.9,1.9 0 1,0 -3.8,0 M233.5,209.2 a1.9,1.9 0 1,0 3.8,0 a1.9,1.9 0 1,0 -3.8,0 M241.0,216.7 a1.9,1.9 0 1,0 3.8,0 a1.9,1.9 0 1,0 -3.8,0 M248.5,224.2 a1.9,1.9 0 1,0 3.8,0 a1.9,1.9 0 1,0 -3.8,0 M256.0,231.7 a1.9,1.9 0 1,0 3.8,0 a1.9,1.9 0 1,0 -3.8,0 M263.5,239.2 a1.9,1.9 0 1,0 3.8,0 a1.9,1.9 0 1,0 -3.8,0 M143.5,134.2 a1.9,1.9 0 1,0 3.8,0 a1.9,1.9 0 1,0 -3.8,0 M151.0,141.7 a1.9,1.9 0 1,0 3.8,0 a1.9,1.9 0 1,0 -3.8,0 M158.5,149.2 a1.9,1.9 0 1,0 3.8,0 a1.9,1.9 0 1,0 -3.8,0 M166.0,156.7 a1.9,1.9 0 1,0 3.8,0 a1.9,1.9 0 1,0 -3.8,0 M173.5,164.2 a1.9,1.9 0 1,0 3.8,0 a1.9,1.9 0 1,0 -3.8,0 M181.0,171.7 a1.9,1.9 0 1,0 3.8,0 a1.9,1.9 0 1,0 -3.8,0 M188.5,179.2 a1.9,1.9 0 1,0 3.8,0 a1.9,1.9 0 1,0 -3.8,0 M196.0,186.7 a1.9,1.9 0 1,0 3.8,0 a1.9,1.9 0 1,0 -3.8,0 M203.5,194.2 a1.9,1.9 0 1,0 3.8,0 a1.9,1.9 0 1,0 -3.8,0 M211.0,201.7 a1.9,1.9 0 1,0 3.8,0 a1.9,1.9 0 1,0 -3.8,0 M218.5,209.2 a1.9,1.9 0 1,0 3.8,0 a1.9,1.9 0 1,0 -3.8,0 M226.0,216.7 a1.9,1.9 0 1,0 3.8,0 a1.9,1.9 0 1,0 -3.8,0 M233.5,224.2 a1.9,1.9 0 1,0 3.8,0 a1.9,1.9 0 1,0 -3.8,0 M241.0,231.7 a1.9,1.9 0 1,0 3.8,0 a1.9,1.9 0 1,0 -3.8,0 M248.5,239.2 a1.9,1.9 0 1,0 3.8,0 a1.9,1.9 0 1,0 -3.8,0 M256.0,246.7 a1.9,1.9 0 1,0 3.8,0 a1.9,1.9 0 1,0 -3.8,0 M263.5,254.2 a1.9,1.9 0 1,0 3.8,0 a1.9,1.9 0 1,0 -3.8,0 M128.5,134.2 a1.9,1.9 0 1,0 3.8,0 a1.9,1.9 0 1,0 -3.8,0 M136.0,141.7 a1.9,1.9 0 1,0 3.8,0 a1.9,1.9 0 1,0 -3.8,0 M143.5,149.2 a1.9,1.9 0 1,0 3.8,0 a1.9,1.9 0 1,0 -3.8,0 M151.0,156.7 a1.9,1.9 0 1,0 3.8,0 a1.9,1.9 0 1,0 -3.8,0 M158.5,164.2 a1.9,1.9 0 1,0 3.8,0 a1.9,1.9 0 1,0 -3.8,0 M166.0,171.7 a1.9,1.9 0 1,0 3.8,0 a1.9,1.9 0 1,0 -3.8,0 M173.5,179.2 a1.9,1.9 0 1,0 3.8,0 a1.9,1.9 0 1,0 -3.8,0 M181.0,186.7 a1.9,1.9 0 1,0 3.8,0 a1.9,1.9 0 1,0 -3.8,0 M188.5,194.2 a1.9,1.9 0 1,0 3.8,0 a1.9,1.9 0 1,0 -3.8,0 M196.0,201.7 a1.9,1.9 0 1,0 3.8,0 a1.9,1.9 0 1,0 -3.8,0 M203.5,209.2 a1.9,1.9 0 1,0 3.8,0 a1.9,1.9 0 1,0 -3.8,0 M211.0,216.7 a1.9,1.9 0 1,0 3.8,0 a1.9,1.9 0 1,0 -3.8,0 M218.5,224.2 a1.9,1.9 0 1,0 3.8,0 a1.9,1.9 0 1,0 -3.8,0 M226.0,231.7 a1.9,1.9 0 1,0 3.8,0 a1.9,1.9 0 1,0 -3.8,0 M233.5,239.2 a1.9,1.9 0 1,0 3.8,0 a1.9,1.9 0 1,0 -3.8,0 M241.0,246.7 a1.9,1.9 0 1,0 3.8,0 a1.9,1.9 0 1,0 -3.8,0 M248.5,254.2 a1.9,1.9 0 1,0 3.8,0 a1.9,1.9 0 1,0 -3.8,0 M256.0,261.7 a1.9,1.9 0 1,0 3.8,0 a1.9,1.9 0 1,0 -3.8,0 M263.5,269.2 a1.9,1.9 0 1,0 3.8,0 a1.9,1.9 0 1,0 -3.8,0 M113.5,134.2 a1.9,1.9 0 1,0 3.8,0 a1.9,1.9 0 1,0 -3.8,0 M121.0,141.7 a1.9,1.9 0 1,0 3.8,0 a1.9,1.9 0 1,0 -3.8,0 M128.5,149.2 a1.9,1.9 0 1,0 3.8,0 a1.9,1.9 0 1,0 -3.8,0 M136.0,156.7 a1.9,1.9 0 1,0 3.8,0 a1.9,1.9 0 1,0 -3.8,0 M143.5,164.2 a1.9,1.9 0 1,0 3.8,0 a1.9,1.9 0 1,0 -3.8,0 M151.0,171.7 a1.9,1.9 0 1,0 3.8,0 a1.9,1.9 0 1,0 -3.8,0 M158.5,179.2 a1.9,1.9 0 1,0 3.8,0 a1.9,1.9 0 1,0 -3.8,0 M166.0,186.7 a1.9,1.9 0 1,0 3.8,0 a1.9,1.9 0 1,0 -3.8,0 M173.5,194.2 a1.9,1.9 0 1,0 3.8,0 a1.9,1.9 0 1,0 -3.8,0 M181.0,201.7 a1.9,1.9 0 1,0 3.8,0 a1.9,1.9 0 1,0 -3.8,0 M188.5,209.2 a1.9,1.9 0 1,0 3.8,0 a1.9,1.9 0 1,0 -3.8,0 M196.0,216.7 a1.9,1.9 0 1,0 3.8,0 a1.9,1.9 0 1,0 -3.8,0 M203.5,224.2 a1.9,1.9 0 1,0 3.8,0 a1.9,1.9 0 1,0 -3.8,0 M211.0,231.7 a1.9,1.9 0 1,0 3.8,0 a1.9,1.9 0 1,0 -3.8,0 M218.5,239.2 a1.9,1.9 0 1,0 3.8,0 a1.9,1.9 0 1,0 -3.8,0 M226.0,246.7 a1.9,1.9 0 1,0 3.8,0 a1.9,1.9 0 1,0 -3.8,0 M233.5,254.2 a1.9,1.9 0 1,0 3.8,0 a1.9,1.9 0 1,0 -3.8,0 M241.0,261.7 a1.9,1.9 0 1,0 3.8,0 a1.9,1.9 0 1,0 -3.8,0 M248.5,269.2 a1.9,1.9 0 1,0 3.8,0 a1.9,1.9 0 1,0 -3.8,0 M256.0,276.7 a1.9,1.9 0 1,0 3.8,0 a1.9,1.9 0 1,0 -3.8,0 M263.5,284.2 a1.9,1.9 0 1,0 3.8,0 a1.9,1.9 0 1,0 -3.8,0 M113.5,149.2 a1.9,1.9 0 1,0 3.8,0 a1.9,1.9 0 1,0 -3.8,0 M121.0,156.7 a1.9,1.9 0 1,0 3.8,0 a1.9,1.9 0 1,0 -3.8,0 M128.5,164.2 a1.9,1.9 0 1,0 3.8,0 a1.9,1.9 0 1,0 -3.8,0 M136.0,171.7 a1.9,1.9 0 1,0 3.8,0 a1.9,1.9 0 1,0 -3.8,0 M143.5,179.2 a1.9,1.9 0 1,0 3.8,0 a1.9,1.9 0 1,0 -3.8,0 M151.0,186.7 a1.9,1.9 0 1,0 3.8,0 a1.9,1.9 0 1,0 -3.8,0 M158.5,194.2 a1.9,1.9 0 1,0 3.8,0 a1.9,1.9 0 1,0 -3.8,0 M166.0,201.7 a1.9,1.9 0 1,0 3.8,0 a1.9,1.9 0 1,0 -3.8,0 M173.5,209.2 a1.9,1.9 0 1,0 3.8,0 a1.9,1.9 0 1,0 -3.8,0 M181.0,216.7 a1.9,1.9 0 1,0 3.8,0 a1.9,1.9 0 1,0 -3.8,0 M188.5,224.2 a1.9,1.9 0 1,0 3.8,0 a1.9,1.9 0 1,0 -3.8,0 M196.0,231.7 a1.9,1.9 0 1,0 3.8,0 a1.9,1.9 0 1,0 -3.8,0 M203.5,239.2 a1.9,1.9 0 1,0 3.8,0 a1.9,1.9 0 1,0 -3.8,0 M211.0,246.7 a1.9,1.9 0 1,0 3.8,0 a1.9,1.9 0 1,0 -3.8,0 M218.5,254.2 a1.9,1.9 0 1,0 3.8,0 a1.9,1.9 0 1,0 -3.8,0 M226.0,261.7 a1.9,1.9 0 1,0 3.8,0 a1.9,1.9 0 1,0 -3.8,0 M233.5,269.2 a1.9,1.9 0 1,0 3.8,0 a1.9,1.9 0 1,0 -3.8,0 M241.0,276.7 a1.9,1.9 0 1,0 3.8,0 a1.9,1.9 0 1,0 -3.8,0 M248.5,284.2 a1.9,1.9 0 1,0 3.8,0 a1.9,1.9 0 1,0 -3.8,0 M113.5,164.2 a1.9,1.9 0 1,0 3.8,0 a1.9,1.9 0 1,0 -3.8,0 M121.0,171.7 a1.9,1.9 0 1,0 3.8,0 a1.9,1.9 0 1,0 -3.8,0 M128.5,179.2 a1.9,1.9 0 1,0 3.8,0 a1.9,1.9 0 1,0 -3.8,0 M136.0,186.7 a1.9,1.9 0 1,0 3.8,0 a1.9,1.9 0 1,0 -3.8,0 M143.5,194.2 a1.9,1.9 0 1,0 3.8,0 a1.9,1.9 0 1,0 -3.8,0 M151.0,201.7 a1.9,1.9 0 1,0 3.8,0 a1.9,1.9 0 1,0 -3.8,0 M158.5,209.2 a1.9,1.9 0 1,0 3.8,0 a1.9,1.9 0 1,0 -3.8,0 M166.0,216.7 a1.9,1.9 0 1,0 3.8,0 a1.9,1.9 0 1,0 -3.8,0 M173.5,224.2 a1.9,1.9 0 1,0 3.8,0 a1.9,1.9 0 1,0 -3.8,0 M181.0,231.7 a1.9,1.9 0 1,0 3.8,0 a1.9,1.9 0 1,0 -3.8,0 M188.5,239.2 a1.9,1.9 0 1,0 3.8,0 a1.9,1.9 0 1,0 -3.8,0 M196.0,246.7 a1.9,1.9 0 1,0 3.8,0 a1.9,1.9 0 1,0 -3.8,0 M203.5,254.2 a1.9,1.9 0 1,0 3.8,0 a1.9,1.9 0 1,0 -3.8,0 M211.0,261.7 a1.9,1.9 0 1,0 3.8,0 a1.9,1.9 0 1,0 -3.8,0 M218.5,269.2 a1.9,1.9 0 1,0 3.8,0 a1.9,1.9 0 1,0 -3.8,0 M226.0,276.7 a1.9,1.9 0 1,0 3.8,0 a1.9,1.9 0 1,0 -3.8,0 M233.5,284.2 a1.9,1.9 0 1,0 3.8,0 a1.9,1.9 0 1,0 -3.8,0 M113.5,179.2 a1.9,1.9 0 1,0 3.8,0 a1.9,1.9 0 1,0 -3.8,0 M121.0,186.7 a1.9,1.9 0 1,0 3.8,0 a1.9,1.9 0 1,0 -3.8,0 M128.5,194.2 a1.9,1.9 0 1,0 3.8,0 a1.9,1.9 0 1,0 -3.8,0 M136.0,201.7 a1.9,1.9 0 1,0 3.8,0 a1.9,1.9 0 1,0 -3.8,0 M143.5,209.2 a1.9,1.9 0 1,0 3.8,0 a1.9,1.9 0 1,0 -3.8,0 M151.0,216.7 a1.9,1.9 0 1,0 3.8,0 a1.9,1.9 0 1,0 -3.8,0 M158.5,224.2 a1.9,1.9 0 1,0 3.8,0 a1.9,1.9 0 1,0 -3.8,0 M166.0,231.7 a1.9,1.9 0 1,0 3.8,0 a1.9,1.9 0 1,0 -3.8,0 M173.5,239.2 a1.9,1.9 0 1,0 3.8,0 a1.9,1.9 0 1,0 -3.8,0 M181.0,246.7 a1.9,1.9 0 1,0 3.8,0 a1.9,1.9 0 1,0 -3.8,0 M188.5,254.2 a1.9,1.9 0 1,0 3.8,0 a1.9,1.9 0 1,0 -3.8,0 M196.0,261.7 a1.9,1.9 0 1,0 3.8,0 a1.9,1.9 0 1,0 -3.8,0 M203.5,269.2 a1.9,1.9 0 1,0 3.8,0 a1.9,1.9 0 1,0 -3.8,0 M211.0,276.7 a1.9,1.9 0 1,0 3.8,0 a1.9,1.9 0 1,0 -3.8,0 M218.5,284.2 a1.9,1.9 0 1,0 3.8,0 a1.9,1.9 0 1,0 -3.8,0 M113.5,194.2 a1.9,1.9 0 1,0 3.8,0 a1.9,1.9 0 1,0 -3.8,0 M121.0,201.7 a1.9,1.9 0 1,0 3.8,0 a1.9,1.9 0 1,0 -3.8,0 M128.5,209.2 a1.9,1.9 0 1,0 3.8,0 a1.9,1.9 0 1,0 -3.8,0 M136.0,216.7 a1.9,1.9 0 1,0 3.8,0 a1.9,1.9 0 1,0 -3.8,0 M143.5,224.2 a1.9,1.9 0 1,0 3.8,0 a1.9,1.9 0 1,0 -3.8,0 M151.0,231.7 a1.9,1.9 0 1,0 3.8,0 a1.9,1.9 0 1,0 -3.8,0 M158.5,239.2 a1.9,1.9 0 1,0 3.8,0 a1.9,1.9 0 1,0 -3.8,0 M166.0,246.7 a1.9,1.9 0 1,0 3.8,0 a1.9,1.9 0 1,0 -3.8,0 M173.5,254.2 a1.9,1.9 0 1,0 3.8,0 a1.9,1.9 0 1,0 -3.8,0 M181.0,261.7 a1.9,1.9 0 1,0 3.8,0 a1.9,1.9 0 1,0 -3.8,0 M188.5,269.2 a1.9,1.9 0 1,0 3.8,0 a1.9,1.9 0 1,0 -3.8,0 M196.0,276.7 a1.9,1.9 0 1,0 3.8,0 a1.9,1.9 0 1,0 -3.8,0 M203.5,284.2 a1.9,1.9 0 1,0 3.8,0 a1.9,1.9 0 1,0 -3.8,0 M113.5,209.2 a1.9,1.9 0 1,0 3.8,0 a1.9,1.9 0 1,0 -3.8,0 M121.0,216.7 a1.9,1.9 0 1,0 3.8,0 a1.9,1.9 0 1,0 -3.8,0 M128.5,224.2 a1.9,1.9 0 1,0 3.8,0 a1.9,1.9 0 1,0 -3.8,0 M136.0,231.7 a1.9,1.9 0 1,0 3.8,0 a1.9,1.9 0 1,0 -3.8,0 M143.5,239.2 a1.9,1.9 0 1,0 3.8,0 a1.9,1.9 0 1,0 -3.8,0 M151.0,246.7 a1.9,1.9 0 1,0 3.8,0 a1.9,1.9 0 1,0 -3.8,0 M158.5,254.2 a1.9,1.9 0 1,0 3.8,0 a1.9,1.9 0 1,0 -3.8,0 M166.0,261.7 a1.9,1.9 0 1,0 3.8,0 a1.9,1.9 0 1,0 -3.8,0 M173.5,269.2 a1.9,1.9 0 1,0 3.8,0 a1.9,1.9 0 1,0 -3.8,0 M181.0,276.7 a1.9,1.9 0 1,0 3.8,0 a1.9,1.9 0 1,0 -3.8,0 M188.5,284.2 a1.9,1.9 0 1,0 3.8,0 a1.9,1.9 0 1,0 -3.8,0 M113.5,224.2 a1.9,1.9 0 1,0 3.8,0 a1.9,1.9 0 1,0 -3.8,0 M121.0,231.7 a1.9,1.9 0 1,0 3.8,0 a1.9,1.9 0 1,0 -3.8,0 M128.5,239.2 a1.9,1.9 0 1,0 3.8,0 a1.9,1.9 0 1,0 -3.8,0 M136.0,246.7 a1.9,1.9 0 1,0 3.8,0 a1.9,1.9 0 1,0 -3.8,0 M143.5,254.2 a1.9,1.9 0 1,0 3.8,0 a1.9,1.9 0 1,0 -3.8,0 M151.0,261.7 a1.9,1.9 0 1,0 3.8,0 a1.9,1.9 0 1,0 -3.8,0 M158.5,269.2 a1.9,1.9 0 1,0 3.8,0 a1.9,1.9 0 1,0 -3.8,0 M166.0,276.7 a1.9,1.9 0 1,0 3.8,0 a1.9,1.9 0 1,0 -3.8,0 M173.5,284.2 a1.9,1.9 0 1,0 3.8,0 a1.9,1.9 0 1,0 -3.8,0 M113.5,239.2 a1.9,1.9 0 1,0 3.8,0 a1.9,1.9 0 1,0 -3.8,0 M121.0,246.7 a1.9,1.9 0 1,0 3.8,0 a1.9,1.9 0 1,0 -3.8,0 M128.5,254.2 a1.9,1.9 0 1,0 3.8,0 a1.9,1.9 0 1,0 -3.8,0 M136.0,261.7 a1.9,1.9 0 1,0 3.8,0 a1.9,1.9 0 1,0 -3.8,0 M143.5,269.2 a1.9,1.9 0 1,0 3.8,0 a1.9,1.9 0 1,0 -3.8,0 M151.0,276.7 a1.9,1.9 0 1,0 3.8,0 a1.9,1.9 0 1,0 -3.8,0 M158.5,284.2 a1.9,1.9 0 1,0 3.8,0 a1.9,1.9 0 1,0 -3.8,0 M113.5,254.2 a1.9,1.9 0 1,0 3.8,0 a1.9,1.9 0 1,0 -3.8,0 M121.0,261.7 a1.9,1.9 0 1,0 3.8,0 a1.9,1.9 0 1,0 -3.8,0 M128.5,269.2 a1.9,1.9 0 1,0 3.8,0 a1.9,1.9 0 1,0 -3.8,0 M136.0,276.7 a1.9,1.9 0 1,0 3.8,0 a1.9,1.9 0 1,0 -3.8,0 M143.5,284.2 a1.9,1.9 0 1,0 3.8,0 a1.9,1.9 0 1,0 -3.8,0 M113.5,269.2 a1.9,1.9 0 1,0 3.8,0 a1.9,1.9 0 1,0 -3.8,0 M121.0,276.7 a1.9,1.9 0 1,0 3.8,0 a1.9,1.9 0 1,0 -3.8,0 M128.5,284.2 a1.9,1.9 0 1,0 3.8,0 a1.9,1.9 0 1,0 -3.8,0 M113.5,284.2 a1.9,1.9 0 1,0 3.8,0 a1.9,1.9 0 1,0 -3.8,0" fill="#111"/></g>
<path d="M192.4,131.8 L127.50,162.00 L124.30,166.50 L124.20,178.00 L124.80,192.00 L127.30,208.00 L131.20,222.00 L134.50,231.00 L137.50,236.00 L182.0,282.3 L202.80,282.3 L247.30,236.00 L250.30,231.00 L253.60,222.00 L257.50,208.00 L260.00,192.00 L260.60,178.00 L260.50,166.50 L257.30,162.00 Z" transform="translate(192.4 207) scale(0.952) translate(-192.4 -207)" fill="none" stroke="#444" stroke-width="1.0"/>
<path d="M192.4,131.8 L127.50,162.00 L124.30,166.50 L124.20,178.00 L124.80,192.00 L127.30,208.00 L131.20,222.00 L134.50,231.00 L137.50,236.00 L182.0,282.3 L202.80,282.3 L247.30,236.00 L250.30,231.00 L253.60,222.00 L257.50,208.00 L260.00,192.00 L260.60,178.00 L260.50,166.50 L257.30,162.00 Z" transform="translate(192.4 207) scale(0.975) translate(-192.4 -207)" fill="none" stroke="#9a9a9a" stroke-width="0.8" stroke-dasharray="1.2 1.6"/>
<g clip-path="url(#cSo)"><rect x="179.40" y="265.30" width="26" height="17" fill="#fff"/><path d="M179.40,265.30 L205.40,265.30 M179.40,271.30 L205.40,271.30 M179.40,275.30 L205.40,275.30" stroke="#777" stroke-width="0.8"/><path d="M181.10,265.30 L183.10,282.30 M203.70,265.30 L201.70,282.30" stroke="#777" stroke-width="0.8"/></g>
<rect x="184.10" y="133.80" width="16.60" height="148.50" fill="#fff"/>
<rect x="186.40" y="139.80" width="12" height="69.23" fill="#dedede"/>
<rect x="186.40" y="228.12" width="12" height="30.10" fill="#e2e2e2"/>
<rect x="190.90" y="139.80" width="2.6" height="69.23" fill="#bdbdbd"/>
<path d="M184.60,134.80 L184.60,282.30 M186.60,134.80 L186.60,282.30 M186.40,134.80 L186.40,282.30 M198.40,134.80 L198.40,282.30 M198.20,134.80 L198.20,282.30 M200.20,134.80 L200.20,282.30" stroke="#808080" stroke-width="0.7" fill="none"/>
<path d="M184.10,136.80 L200.70,136.80 M184.10,139.80 L200.70,139.80 M184.10,209.03 L200.70,209.03 M184.10,262.30 L200.70,262.30 M184.10,269.30 L200.70,269.30 M184.10,274.30 L200.70,274.30 M184.10,278.30 L200.70,278.30" stroke="#888" stroke-width="0.7" fill="none"/>
<path d="M192.4,131.8 L127.50,162.00 L124.30,166.50 L124.20,178.00 L124.80,192.00 L127.30,208.00 L131.20,222.00 L134.50,231.00 L137.50,236.00 L182.0,282.3 L202.80,282.3 L247.30,236.00 L250.30,231.00 L253.60,222.00 L257.50,208.00 L260.00,192.00 L260.60,178.00 L260.50,166.50 L257.30,162.00 Z" fill="none" stroke="#1e1e1e" stroke-width="1.9" stroke-linejoin="round"/>
<path d="M184.60,136.30 Q192.40,128.60 200.20,136.30" fill="#d0d0d0" stroke="#333" stroke-width="1.2"/>
<clipPath id="cD"><path d="M479.00,131.90 C478.75,131.90 480.72,131.51 477.50,131.90 C474.28,132.29 465.27,132.95 459.70,134.25 C454.13,135.55 449.05,137.09 444.10,139.70 C439.15,142.31 434.17,145.87 430.00,149.90 C425.83,153.93 421.97,158.95 419.10,163.90 C416.23,168.85 414.17,174.65 412.80,179.60 C411.43,184.55 411.03,188.92 410.90,193.60 C410.77,198.28 411.17,203.01 412.00,207.70 C412.83,212.39 413.94,216.80 415.90,221.75 C417.86,226.70 420.62,232.46 423.75,237.40 C426.88,242.34 430.53,246.72 434.70,251.40 C438.87,256.08 444.32,261.85 448.75,265.50 C453.18,269.15 457.71,271.05 461.25,273.30 C464.79,275.55 468.48,277.60 470.00,279.00 C471.52,280.40 470.33,281.25 470.40,281.70 L487.60,281.70 C487.67,281.25 486.48,280.40 488.00,279.00 C489.52,277.60 493.21,275.55 496.75,273.30 C500.29,271.05 504.82,269.15 509.25,265.50 C513.67,261.85 519.13,256.08 523.30,251.40 C527.47,246.72 531.12,242.34 534.25,237.40 C537.38,232.46 540.14,226.70 542.10,221.75 C544.06,216.80 545.17,212.39 546.00,207.70 C546.83,203.01 547.23,198.28 547.10,193.60 C546.97,188.92 546.57,184.55 545.20,179.60 C543.83,174.65 541.77,168.85 538.90,163.90 C536.03,158.95 532.17,153.93 528.00,149.90 C523.83,145.87 518.85,142.31 513.90,139.70 C508.95,137.09 503.87,135.55 498.30,134.25 C492.73,132.95 483.72,132.29 480.50,131.90 C477.28,131.51 479.25,131.90 479.00,131.90 Z" transform="translate(479.0 207) scale(0.952) translate(-479.0 -207)"/></clipPath>
<clipPath id="cDo"><path d="M479.00,131.90 C478.75,131.90 480.72,131.51 477.50,131.90 C474.28,132.29 465.27,132.95 459.70,134.25 C454.13,135.55 449.05,137.09 444.10,139.70 C439.15,142.31 434.17,145.87 430.00,149.90 C425.83,153.93 421.97,158.95 419.10,163.90 C416.23,168.85 414.17,174.65 412.80,179.60 C411.43,184.55 411.03,188.92 410.90,193.60 C410.77,198.28 411.17,203.01 412.00,207.70 C412.83,212.39 413.94,216.80 415.90,221.75 C417.86,226.70 420.62,232.46 423.75,237.40 C426.88,242.34 430.53,246.72 434.70,251.40 C438.87,256.08 444.32,261.85 448.75,265.50 C453.18,269.15 457.71,271.05 461.25,273.30 C464.79,275.55 468.48,277.60 470.00,279.00 C471.52,280.40 470.33,281.25 470.40,281.70 L487.60,281.70 C487.67,281.25 486.48,280.40 488.00,279.00 C489.52,277.60 493.21,275.55 496.75,273.30 C500.29,271.05 504.82,269.15 509.25,265.50 C513.67,261.85 519.13,256.08 523.30,251.40 C527.47,246.72 531.12,242.34 534.25,237.40 C537.38,232.46 540.14,226.70 542.10,221.75 C544.06,216.80 545.17,212.39 546.00,207.70 C546.83,203.01 547.23,198.28 547.10,193.60 C546.97,188.92 546.57,184.55 545.20,179.60 C543.83,174.65 541.77,168.85 538.90,163.90 C536.03,158.95 532.17,153.93 528.00,149.90 C523.83,145.87 518.85,142.31 513.90,139.70 C508.95,137.09 503.87,135.55 498.30,134.25 C492.73,132.95 483.72,132.29 480.50,131.90 C477.28,131.51 479.25,131.90 479.00,131.90 Z"/></clipPath>
<g clip-path="url(#cD)"><path d="M399.0,-19.1 L559.0,140.9 M399.0,-4.1 L559.0,155.9 M399.0,10.9 L559.0,170.9 M399.0,25.9 L559.0,185.9 M399.0,40.9 L559.0,200.9 M399.0,55.9 L559.0,215.9 M399.0,70.9 L559.0,230.9 M399.0,85.9 L559.0,245.9 M399.0,100.9 L559.0,260.9 M399.0,115.9 L559.0,275.9 M399.0,130.9 L559.0,290.9 M399.0,145.9 L559.0,305.9 M399.0,160.9 L559.0,320.9 M399.0,175.9 L559.0,335.9 M399.0,190.9 L559.0,350.9 M399.0,205.9 L559.0,365.9 M399.0,220.9 L559.0,380.9 M399.0,235.9 L559.0,395.9 M399.0,250.9 L559.0,410.9 M399.0,265.9 L559.0,425.9 M399.0,280.9 L559.0,440.9 M399.0,136.3 L559.0,-23.7 M399.0,151.3 L559.0,-8.7 M399.0,166.3 L559.0,6.3 M399.0,181.3 L559.0,21.3 M399.0,196.3 L559.0,36.3 M399.0,211.3 L559.0,51.3 M399.0,226.3 L559.0,66.3 M399.0,241.3 L559.0,81.3 M399.0,256.3 L559.0,96.3 M399.0,271.3 L559.0,111.3 M399.0,286.3 L559.0,126.3 M399.0,301.3 L559.0,141.3 M399.0,316.3 L559.0,156.3 M399.0,331.3 L559.0,171.3 M399.0,346.3 L559.0,186.3 M399.0,361.3 L559.0,201.3 M399.0,376.3 L559.0,216.3 M399.0,391.3 L559.0,231.3 M399.0,406.3 L559.0,246.3 M399.0,421.3 L559.0,261.3 M399.0,436.3 L559.0,276.3" stroke="#2e2e2e" stroke-width="2.2" fill="none"/><path d="M549.8,133.6 a1.9,1.9 0 1,0 3.8,0 a1.9,1.9 0 1,0 -3.8,0 M534.8,133.6 a1.9,1.9 0 1,0 3.8,0 a1.9,1.9 0 1,0 -3.8,0 M542.3,141.1 a1.9,1.9 0 1,0 3.8,0 a1.9,1.9 0 1,0 -3.8,0 M549.8,148.6 a1.9,1.9 0 1,0 3.8,0 a1.9,1.9 0 1,0 -3.8,0 M519.8,133.6 a1.9,1.9 0 1,0 3.8,0 a1.9,1.9 0 1,0 -3.8,0 M527.3,141.1 a1.9,1.9 0 1,0 3.8,0 a1.9,1.9 0 1,0 -3.8,0 M534.8,148.6 a1.9,1.9 0 1,0 3.8,0 a1.9,1.9 0 1,0 -3.8,0 M542.3,156.1 a1.9,1.9 0 1,0 3.8,0 a1.9,1.9 0 1,0 -3.8,0 M549.8,163.6 a1.9,1.9 0 1,0 3.8,0 a1.9,1.9 0 1,0 -3.8,0 M504.8,133.6 a1.9,1.9 0 1,0 3.8,0 a1.9,1.9 0 1,0 -3.8,0 M512.3,141.1 a1.9,1.9 0 1,0 3.8,0 a1.9,1.9 0 1,0 -3.8,0 M519.8,148.6 a1.9,1.9 0 1,0 3.8,0 a1.9,1.9 0 1,0 -3.8,0 M527.3,156.1 a1.9,1.9 0 1,0 3.8,0 a1.9,1.9 0 1,0 -3.8,0 M534.8,163.6 a1.9,1.9 0 1,0 3.8,0 a1.9,1.9 0 1,0 -3.8,0 M542.3,171.1 a1.9,1.9 0 1,0 3.8,0 a1.9,1.9 0 1,0 -3.8,0 M549.8,178.6 a1.9,1.9 0 1,0 3.8,0 a1.9,1.9 0 1,0 -3.8,0 M489.8,133.6 a1.9,1.9 0 1,0 3.8,0 a1.9,1.9 0 1,0 -3.8,0 M497.3,141.1 a1.9,1.9 0 1,0 3.8,0 a1.9,1.9 0 1,0 -3.8,0 M504.8,148.6 a1.9,1.9 0 1,0 3.8,0 a1.9,1.9 0 1,0 -3.8,0 M512.3,156.1 a1.9,1.9 0 1,0 3.8,0 a1.9,1.9 0 1,0 -3.8,0 M519.8,163.6 a1.9,1.9 0 1,0 3.8,0 a1.9,1.9 0 1,0 -3.8,0 M527.3,171.1 a1.9,1.9 0 1,0 3.8,0 a1.9,1.9 0 1,0 -3.8,0 M534.8,178.6 a1.9,1.9 0 1,0 3.8,0 a1.9,1.9 0 1,0 -3.8,0 M542.3,186.1 a1.9,1.9 0 1,0 3.8,0 a1.9,1.9 0 1,0 -3.8,0 M549.8,193.6 a1.9,1.9 0 1,0 3.8,0 a1.9,1.9 0 1,0 -3.8,0 M474.8,133.6 a1.9,1.9 0 1,0 3.8,0 a1.9,1.9 0 1,0 -3.8,0 M482.3,141.1 a1.9,1.9 0 1,0 3.8,0 a1.9,1.9 0 1,0 -3.8,0 M489.8,148.6 a1.9,1.9 0 1,0 3.8,0 a1.9,1.9 0 1,0 -3.8,0 M497.3,156.1 a1.9,1.9 0 1,0 3.8,0 a1.9,1.9 0 1,0 -3.8,0 M504.8,163.6 a1.9,1.9 0 1,0 3.8,0 a1.9,1.9 0 1,0 -3.8,0 M512.3,171.1 a1.9,1.9 0 1,0 3.8,0 a1.9,1.9 0 1,0 -3.8,0 M519.8,178.6 a1.9,1.9 0 1,0 3.8,0 a1.9,1.9 0 1,0 -3.8,0 M527.3,186.1 a1.9,1.9 0 1,0 3.8,0 a1.9,1.9 0 1,0 -3.8,0 M534.8,193.6 a1.9,1.9 0 1,0 3.8,0 a1.9,1.9 0 1,0 -3.8,0 M542.3,201.1 a1.9,1.9 0 1,0 3.8,0 a1.9,1.9 0 1,0 -3.8,0 M549.8,208.6 a1.9,1.9 0 1,0 3.8,0 a1.9,1.9 0 1,0 -3.8,0 M459.8,133.6 a1.9,1.9 0 1,0 3.8,0 a1.9,1.9 0 1,0 -3.8,0 M467.3,141.1 a1.9,1.9 0 1,0 3.8,0 a1.9,1.9 0 1,0 -3.8,0 M474.8,148.6 a1.9,1.9 0 1,0 3.8,0 a1.9,1.9 0 1,0 -3.8,0 M482.3,156.1 a1.9,1.9 0 1,0 3.8,0 a1.9,1.9 0 1,0 -3.8,0 M489.8,163.6 a1.9,1.9 0 1,0 3.8,0 a1.9,1.9 0 1,0 -3.8,0 M497.3,171.1 a1.9,1.9 0 1,0 3.8,0 a1.9,1.9 0 1,0 -3.8,0 M504.8,178.6 a1.9,1.9 0 1,0 3.8,0 a1.9,1.9 0 1,0 -3.8,0 M512.3,186.1 a1.9,1.9 0 1,0 3.8,0 a1.9,1.9 0 1,0 -3.8,0 M519.8,193.6 a1.9,1.9 0 1,0 3.8,0 a1.9,1.9 0 1,0 -3.8,0 M527.3,201.1 a1.9,1.9 0 1,0 3.8,0 a1.9,1.9 0 1,0 -3.8,0 M534.8,208.6 a1.9,1.9 0 1,0 3.8,0 a1.9,1.9 0 1,0 -3.8,0 M542.3,216.1 a1.9,1.9 0 1,0 3.8,0 a1.9,1.9 0 1,0 -3.8,0 M549.8,223.6 a1.9,1.9 0 1,0 3.8,0 a1.9,1.9 0 1,0 -3.8,0 M444.8,133.6 a1.9,1.9 0 1,0 3.8,0 a1.9,1.9 0 1,0 -3.8,0 M452.3,141.1 a1.9,1.9 0 1,0 3.8,0 a1.9,1.9 0 1,0 -3.8,0 M459.8,148.6 a1.9,1.9 0 1,0 3.8,0 a1.9,1.9 0 1,0 -3.8,0 M467.3,156.1 a1.9,1.9 0 1,0 3.8,0 a1.9,1.9 0 1,0 -3.8,0 M474.8,163.6 a1.9,1.9 0 1,0 3.8,0 a1.9,1.9 0 1,0 -3.8,0 M482.3,171.1 a1.9,1.9 0 1,0 3.8,0 a1.9,1.9 0 1,0 -3.8,0 M489.8,178.6 a1.9,1.9 0 1,0 3.8,0 a1.9,1.9 0 1,0 -3.8,0 M497.3,186.1 a1.9,1.9 0 1,0 3.8,0 a1.9,1.9 0 1,0 -3.8,0 M504.8,193.6 a1.9,1.9 0 1,0 3.8,0 a1.9,1.9 0 1,0 -3.8,0 M512.3,201.1 a1.9,1.9 0 1,0 3.8,0 a1.9,1.9 0 1,0 -3.8,0 M519.8,208.6 a1.9,1.9 0 1,0 3.8,0 a1.9,1.9 0 1,0 -3.8,0 M527.3,216.1 a1.9,1.9 0 1,0 3.8,0 a1.9,1.9 0 1,0 -3.8,0 M534.8,223.6 a1.9,1.9 0 1,0 3.8,0 a1.9,1.9 0 1,0 -3.8,0 M542.3,231.1 a1.9,1.9 0 1,0 3.8,0 a1.9,1.9 0 1,0 -3.8,0 M549.8,238.6 a1.9,1.9 0 1,0 3.8,0 a1.9,1.9 0 1,0 -3.8,0 M429.8,133.6 a1.9,1.9 0 1,0 3.8,0 a1.9,1.9 0 1,0 -3.8,0 M437.3,141.1 a1.9,1.9 0 1,0 3.8,0 a1.9,1.9 0 1,0 -3.8,0 M444.8,148.6 a1.9,1.9 0 1,0 3.8,0 a1.9,1.9 0 1,0 -3.8,0 M452.3,156.1 a1.9,1.9 0 1,0 3.8,0 a1.9,1.9 0 1,0 -3.8,0 M459.8,163.6 a1.9,1.9 0 1,0 3.8,0 a1.9,1.9 0 1,0 -3.8,0 M467.3,171.1 a1.9,1.9 0 1,0 3.8,0 a1.9,1.9 0 1,0 -3.8,0 M474.8,178.6 a1.9,1.9 0 1,0 3.8,0 a1.9,1.9 0 1,0 -3.8,0 M482.3,186.1 a1.9,1.9 0 1,0 3.8,0 a1.9,1.9 0 1,0 -3.8,0 M489.8,193.6 a1.9,1.9 0 1,0 3.8,0 a1.9,1.9 0 1,0 -3.8,0 M497.3,201.1 a1.9,1.9 0 1,0 3.8,0 a1.9,1.9 0 1,0 -3.8,0 M504.8,208.6 a1.9,1.9 0 1,0 3.8,0 a1.9,1.9 0 1,0 -3.8,0 M512.3,216.1 a1.9,1.9 0 1,0 3.8,0 a1.9,1.9 0 1,0 -3.8,0 M519.8,223.6 a1.9,1.9 0 1,0 3.8,0 a1.9,1.9 0 1,0 -3.8,0 M527.3,231.1 a1.9,1.9 0 1,0 3.8,0 a1.9,1.9 0 1,0 -3.8,0 M534.8,238.6 a1.9,1.9 0 1,0 3.8,0 a1.9,1.9 0 1,0 -3.8,0 M542.3,246.1 a1.9,1.9 0 1,0 3.8,0 a1.9,1.9 0 1,0 -3.8,0 M549.8,253.6 a1.9,1.9 0 1,0 3.8,0 a1.9,1.9 0 1,0 -3.8,0 M414.8,133.6 a1.9,1.9 0 1,0 3.8,0 a1.9,1.9 0 1,0 -3.8,0 M422.3,141.1 a1.9,1.9 0 1,0 3.8,0 a1.9,1.9 0 1,0 -3.8,0 M429.8,148.6 a1.9,1.9 0 1,0 3.8,0 a1.9,1.9 0 1,0 -3.8,0 M437.3,156.1 a1.9,1.9 0 1,0 3.8,0 a1.9,1.9 0 1,0 -3.8,0 M444.8,163.6 a1.9,1.9 0 1,0 3.8,0 a1.9,1.9 0 1,0 -3.8,0 M452.3,171.1 a1.9,1.9 0 1,0 3.8,0 a1.9,1.9 0 1,0 -3.8,0 M459.8,178.6 a1.9,1.9 0 1,0 3.8,0 a1.9,1.9 0 1,0 -3.8,0 M467.3,186.1 a1.9,1.9 0 1,0 3.8,0 a1.9,1.9 0 1,0 -3.8,0 M474.8,193.6 a1.9,1.9 0 1,0 3.8,0 a1.9,1.9 0 1,0 -3.8,0 M482.3,201.1 a1.9,1.9 0 1,0 3.8,0 a1.9,1.9 0 1,0 -3.8,0 M489.8,208.6 a1.9,1.9 0 1,0 3.8,0 a1.9,1.9 0 1,0 -3.8,0 M497.3,216.1 a1.9,1.9 0 1,0 3.8,0 a1.9,1.9 0 1,0 -3.8,0 M504.8,223.6 a1.9,1.9 0 1,0 3.8,0 a1.9,1.9 0 1,0 -3.8,0 M512.3,231.1 a1.9,1.9 0 1,0 3.8,0 a1.9,1.9 0 1,0 -3.8,0 M519.8,238.6 a1.9,1.9 0 1,0 3.8,0 a1.9,1.9 0 1,0 -3.8,0 M527.3,246.1 a1.9,1.9 0 1,0 3.8,0 a1.9,1.9 0 1,0 -3.8,0 M534.8,253.6 a1.9,1.9 0 1,0 3.8,0 a1.9,1.9 0 1,0 -3.8,0 M542.3,261.1 a1.9,1.9 0 1,0 3.8,0 a1.9,1.9 0 1,0 -3.8,0 M549.8,268.6 a1.9,1.9 0 1,0 3.8,0 a1.9,1.9 0 1,0 -3.8,0 M399.8,133.6 a1.9,1.9 0 1,0 3.8,0 a1.9,1.9 0 1,0 -3.8,0 M407.3,141.1 a1.9,1.9 0 1,0 3.8,0 a1.9,1.9 0 1,0 -3.8,0 M414.8,148.6 a1.9,1.9 0 1,0 3.8,0 a1.9,1.9 0 1,0 -3.8,0 M422.3,156.1 a1.9,1.9 0 1,0 3.8,0 a1.9,1.9 0 1,0 -3.8,0 M429.8,163.6 a1.9,1.9 0 1,0 3.8,0 a1.9,1.9 0 1,0 -3.8,0 M437.3,171.1 a1.9,1.9 0 1,0 3.8,0 a1.9,1.9 0 1,0 -3.8,0 M444.8,178.6 a1.9,1.9 0 1,0 3.8,0 a1.9,1.9 0 1,0 -3.8,0 M452.3,186.1 a1.9,1.9 0 1,0 3.8,0 a1.9,1.9 0 1,0 -3.8,0 M459.8,193.6 a1.9,1.9 0 1,0 3.8,0 a1.9,1.9 0 1,0 -3.8,0 M467.3,201.1 a1.9,1.9 0 1,0 3.8,0 a1.9,1.9 0 1,0 -3.8,0 M474.8,208.6 a1.9,1.9 0 1,0 3.8,0 a1.9,1.9 0 1,0 -3.8,0 M482.3,216.1 a1.9,1.9 0 1,0 3.8,0 a1.9,1.9 0 1,0 -3.8,0 M489.8,223.6 a1.9,1.9 0 1,0 3.8,0 a1.9,1.9 0 1,0 -3.8,0 M497.3,231.1 a1.9,1.9 0 1,0 3.8,0 a1.9,1.9 0 1,0 -3.8,0 M504.8,238.6 a1.9,1.9 0 1,0 3.8,0 a1.9,1.9 0 1,0 -3.8,0 M512.3,246.1 a1.9,1.9 0 1,0 3.8,0 a1.9,1.9 0 1,0 -3.8,0 M519.8,253.6 a1.9,1.9 0 1,0 3.8,0 a1.9,1.9 0 1,0 -3.8,0 M527.3,261.1 a1.9,1.9 0 1,0 3.8,0 a1.9,1.9 0 1,0 -3.8,0 M534.8,268.6 a1.9,1.9 0 1,0 3.8,0 a1.9,1.9 0 1,0 -3.8,0 M542.3,276.1 a1.9,1.9 0 1,0 3.8,0 a1.9,1.9 0 1,0 -3.8,0 M549.8,283.6 a1.9,1.9 0 1,0 3.8,0 a1.9,1.9 0 1,0 -3.8,0 M399.8,148.6 a1.9,1.9 0 1,0 3.8,0 a1.9,1.9 0 1,0 -3.8,0 M407.3,156.1 a1.9,1.9 0 1,0 3.8,0 a1.9,1.9 0 1,0 -3.8,0 M414.8,163.6 a1.9,1.9 0 1,0 3.8,0 a1.9,1.9 0 1,0 -3.8,0 M422.3,171.1 a1.9,1.9 0 1,0 3.8,0 a1.9,1.9 0 1,0 -3.8,0 M429.8,178.6 a1.9,1.9 0 1,0 3.8,0 a1.9,1.9 0 1,0 -3.8,0 M437.3,186.1 a1.9,1.9 0 1,0 3.8,0 a1.9,1.9 0 1,0 -3.8,0 M444.8,193.6 a1.9,1.9 0 1,0 3.8,0 a1.9,1.9 0 1,0 -3.8,0 M452.3,201.1 a1.9,1.9 0 1,0 3.8,0 a1.9,1.9 0 1,0 -3.8,0 M459.8,208.6 a1.9,1.9 0 1,0 3.8,0 a1.9,1.9 0 1,0 -3.8,0 M467.3,216.1 a1.9,1.9 0 1,0 3.8,0 a1.9,1.9 0 1,0 -3.8,0 M474.8,223.6 a1.9,1.9 0 1,0 3.8,0 a1.9,1.9 0 1,0 -3.8,0 M482.3,231.1 a1.9,1.9 0 1,0 3.8,0 a1.9,1.9 0 1,0 -3.8,0 M489.8,238.6 a1.9,1.9 0 1,0 3.8,0 a1.9,1.9 0 1,0 -3.8,0 M497.3,246.1 a1.9,1.9 0 1,0 3.8,0 a1.9,1.9 0 1,0 -3.8,0 M504.8,253.6 a1.9,1.9 0 1,0 3.8,0 a1.9,1.9 0 1,0 -3.8,0 M512.3,261.1 a1.9,1.9 0 1,0 3.8,0 a1.9,1.9 0 1,0 -3.8,0 M519.8,268.6 a1.9,1.9 0 1,0 3.8,0 a1.9,1.9 0 1,0 -3.8,0 M527.3,276.1 a1.9,1.9 0 1,0 3.8,0 a1.9,1.9 0 1,0 -3.8,0 M534.8,283.6 a1.9,1.9 0 1,0 3.8,0 a1.9,1.9 0 1,0 -3.8,0 M399.8,163.6 a1.9,1.9 0 1,0 3.8,0 a1.9,1.9 0 1,0 -3.8,0 M407.3,171.1 a1.9,1.9 0 1,0 3.8,0 a1.9,1.9 0 1,0 -3.8,0 M414.8,178.6 a1.9,1.9 0 1,0 3.8,0 a1.9,1.9 0 1,0 -3.8,0 M422.3,186.1 a1.9,1.9 0 1,0 3.8,0 a1.9,1.9 0 1,0 -3.8,0 M429.8,193.6 a1.9,1.9 0 1,0 3.8,0 a1.9,1.9 0 1,0 -3.8,0 M437.3,201.1 a1.9,1.9 0 1,0 3.8,0 a1.9,1.9 0 1,0 -3.8,0 M444.8,208.6 a1.9,1.9 0 1,0 3.8,0 a1.9,1.9 0 1,0 -3.8,0 M452.3,216.1 a1.9,1.9 0 1,0 3.8,0 a1.9,1.9 0 1,0 -3.8,0 M459.8,223.6 a1.9,1.9 0 1,0 3.8,0 a1.9,1.9 0 1,0 -3.8,0 M467.3,231.1 a1.9,1.9 0 1,0 3.8,0 a1.9,1.9 0 1,0 -3.8,0 M474.8,238.6 a1.9,1.9 0 1,0 3.8,0 a1.9,1.9 0 1,0 -3.8,0 M482.3,246.1 a1.9,1.9 0 1,0 3.8,0 a1.9,1.9 0 1,0 -3.8,0 M489.8,253.6 a1.9,1.9 0 1,0 3.8,0 a1.9,1.9 0 1,0 -3.8,0 M497.3,261.1 a1.9,1.9 0 1,0 3.8,0 a1.9,1.9 0 1,0 -3.8,0 M504.8,268.6 a1.9,1.9 0 1,0 3.8,0 a1.9,1.9 0 1,0 -3.8,0 M512.3,276.1 a1.9,1.9 0 1,0 3.8,0 a1.9,1.9 0 1,0 -3.8,0 M519.8,283.6 a1.9,1.9 0 1,0 3.8,0 a1.9,1.9 0 1,0 -3.8,0 M399.8,178.6 a1.9,1.9 0 1,0 3.8,0 a1.9,1.9 0 1,0 -3.8,0 M407.3,186.1 a1.9,1.9 0 1,0 3.8,0 a1.9,1.9 0 1,0 -3.8,0 M414.8,193.6 a1.9,1.9 0 1,0 3.8,0 a1.9,1.9 0 1,0 -3.8,0 M422.3,201.1 a1.9,1.9 0 1,0 3.8,0 a1.9,1.9 0 1,0 -3.8,0 M429.8,208.6 a1.9,1.9 0 1,0 3.8,0 a1.9,1.9 0 1,0 -3.8,0 M437.3,216.1 a1.9,1.9 0 1,0 3.8,0 a1.9,1.9 0 1,0 -3.8,0 M444.8,223.6 a1.9,1.9 0 1,0 3.8,0 a1.9,1.9 0 1,0 -3.8,0 M452.3,231.1 a1.9,1.9 0 1,0 3.8,0 a1.9,1.9 0 1,0 -3.8,0 M459.8,238.6 a1.9,1.9 0 1,0 3.8,0 a1.9,1.9 0 1,0 -3.8,0 M467.3,246.1 a1.9,1.9 0 1,0 3.8,0 a1.9,1.9 0 1,0 -3.8,0 M474.8,253.6 a1.9,1.9 0 1,0 3.8,0 a1.9,1.9 0 1,0 -3.8,0 M482.3,261.1 a1.9,1.9 0 1,0 3.8,0 a1.9,1.9 0 1,0 -3.8,0 M489.8,268.6 a1.9,1.9 0 1,0 3.8,0 a1.9,1.9 0 1,0 -3.8,0 M497.3,276.1 a1.9,1.9 0 1,0 3.8,0 a1.9,1.9 0 1,0 -3.8,0 M504.8,283.6 a1.9,1.9 0 1,0 3.8,0 a1.9,1.9 0 1,0 -3.8,0 M399.8,193.6 a1.9,1.9 0 1,0 3.8,0 a1.9,1.9 0 1,0 -3.8,0 M407.3,201.1 a1.9,1.9 0 1,0 3.8,0 a1.9,1.9 0 1,0 -3.8,0 M414.8,208.6 a1.9,1.9 0 1,0 3.8,0 a1.9,1.9 0 1,0 -3.8,0 M422.3,216.1 a1.9,1.9 0 1,0 3.8,0 a1.9,1.9 0 1,0 -3.8,0 M429.8,223.6 a1.9,1.9 0 1,0 3.8,0 a1.9,1.9 0 1,0 -3.8,0 M437.3,231.1 a1.9,1.9 0 1,0 3.8,0 a1.9,1.9 0 1,0 -3.8,0 M444.8,238.6 a1.9,1.9 0 1,0 3.8,0 a1.9,1.9 0 1,0 -3.8,0 M452.3,246.1 a1.9,1.9 0 1,0 3.8,0 a1.9,1.9 0 1,0 -3.8,0 M459.8,253.6 a1.9,1.9 0 1,0 3.8,0 a1.9,1.9 0 1,0 -3.8,0 M467.3,261.1 a1.9,1.9 0 1,0 3.8,0 a1.9,1.9 0 1,0 -3.8,0 M474.8,268.6 a1.9,1.9 0 1,0 3.8,0 a1.9,1.9 0 1,0 -3.8,0 M482.3,276.1 a1.9,1.9 0 1,0 3.8,0 a1.9,1.9 0 1,0 -3.8,0 M489.8,283.6 a1.9,1.9 0 1,0 3.8,0 a1.9,1.9 0 1,0 -3.8,0 M399.8,208.6 a1.9,1.9 0 1,0 3.8,0 a1.9,1.9 0 1,0 -3.8,0 M407.3,216.1 a1.9,1.9 0 1,0 3.8,0 a1.9,1.9 0 1,0 -3.8,0 M414.8,223.6 a1.9,1.9 0 1,0 3.8,0 a1.9,1.9 0 1,0 -3.8,0 M422.3,231.1 a1.9,1.9 0 1,0 3.8,0 a1.9,1.9 0 1,0 -3.8,0 M429.8,238.6 a1.9,1.9 0 1,0 3.8,0 a1.9,1.9 0 1,0 -3.8,0 M437.3,246.1 a1.9,1.9 0 1,0 3.8,0 a1.9,1.9 0 1,0 -3.8,0 M444.8,253.6 a1.9,1.9 0 1,0 3.8,0 a1.9,1.9 0 1,0 -3.8,0 M452.3,261.1 a1.9,1.9 0 1,0 3.8,0 a1.9,1.9 0 1,0 -3.8,0 M459.8,268.6 a1.9,1.9 0 1,0 3.8,0 a1.9,1.9 0 1,0 -3.8,0 M467.3,276.1 a1.9,1.9 0 1,0 3.8,0 a1.9,1.9 0 1,0 -3.8,0 M474.8,283.6 a1.9,1.9 0 1,0 3.8,0 a1.9,1.9 0 1,0 -3.8,0 M399.8,223.6 a1.9,1.9 0 1,0 3.8,0 a1.9,1.9 0 1,0 -3.8,0 M407.3,231.1 a1.9,1.9 0 1,0 3.8,0 a1.9,1.9 0 1,0 -3.8,0 M414.8,238.6 a1.9,1.9 0 1,0 3.8,0 a1.9,1.9 0 1,0 -3.8,0 M422.3,246.1 a1.9,1.9 0 1,0 3.8,0 a1.9,1.9 0 1,0 -3.8,0 M429.8,253.6 a1.9,1.9 0 1,0 3.8,0 a1.9,1.9 0 1,0 -3.8,0 M437.3,261.1 a1.9,1.9 0 1,0 3.8,0 a1.9,1.9 0 1,0 -3.8,0 M444.8,268.6 a1.9,1.9 0 1,0 3.8,0 a1.9,1.9 0 1,0 -3.8,0 M452.3,276.1 a1.9,1.9 0 1,0 3.8,0 a1.9,1.9 0 1,0 -3.8,0 M459.8,283.6 a1.9,1.9 0 1,0 3.8,0 a1.9,1.9 0 1,0 -3.8,0 M399.8,238.6 a1.9,1.9 0 1,0 3.8,0 a1.9,1.9 0 1,0 -3.8,0 M407.3,246.1 a1.9,1.9 0 1,0 3.8,0 a1.9,1.9 0 1,0 -3.8,0 M414.8,253.6 a1.9,1.9 0 1,0 3.8,0 a1.9,1.9 0 1,0 -3.8,0 M422.3,261.1 a1.9,1.9 0 1,0 3.8,0 a1.9,1.9 0 1,0 -3.8,0 M429.8,268.6 a1.9,1.9 0 1,0 3.8,0 a1.9,1.9 0 1,0 -3.8,0 M437.3,276.1 a1.9,1.9 0 1,0 3.8,0 a1.9,1.9 0 1,0 -3.8,0 M444.8,283.6 a1.9,1.9 0 1,0 3.8,0 a1.9,1.9 0 1,0 -3.8,0 M399.8,253.6 a1.9,1.9 0 1,0 3.8,0 a1.9,1.9 0 1,0 -3.8,0 M407.3,261.1 a1.9,1.9 0 1,0 3.8,0 a1.9,1.9 0 1,0 -3.8,0 M414.8,268.6 a1.9,1.9 0 1,0 3.8,0 a1.9,1.9 0 1,0 -3.8,0 M422.3,276.1 a1.9,1.9 0 1,0 3.8,0 a1.9,1.9 0 1,0 -3.8,0 M429.8,283.6 a1.9,1.9 0 1,0 3.8,0 a1.9,1.9 0 1,0 -3.8,0 M399.8,268.6 a1.9,1.9 0 1,0 3.8,0 a1.9,1.9 0 1,0 -3.8,0 M407.3,276.1 a1.9,1.9 0 1,0 3.8,0 a1.9,1.9 0 1,0 -3.8,0 M414.8,283.6 a1.9,1.9 0 1,0 3.8,0 a1.9,1.9 0 1,0 -3.8,0 M399.8,283.6 a1.9,1.9 0 1,0 3.8,0 a1.9,1.9 0 1,0 -3.8,0" fill="#111"/></g>
<path d="M479.00,131.90 C478.75,131.90 480.72,131.51 477.50,131.90 C474.28,132.29 465.27,132.95 459.70,134.25 C454.13,135.55 449.05,137.09 444.10,139.70 C439.15,142.31 434.17,145.87 430.00,149.90 C425.83,153.93 421.97,158.95 419.10,163.90 C416.23,168.85 414.17,174.65 412.80,179.60 C411.43,184.55 411.03,188.92 410.90,193.60 C410.77,198.28 411.17,203.01 412.00,207.70 C412.83,212.39 413.94,216.80 415.90,221.75 C417.86,226.70 420.62,232.46 423.75,237.40 C426.88,242.34 430.53,246.72 434.70,251.40 C438.87,256.08 444.32,261.85 448.75,265.50 C453.18,269.15 457.71,271.05 461.25,273.30 C464.79,275.55 468.48,277.60 470.00,279.00 C471.52,280.40 470.33,281.25 470.40,281.70 L487.60,281.70 C487.67,281.25 486.48,280.40 488.00,279.00 C489.52,277.60 493.21,275.55 496.75,273.30 C500.29,271.05 504.82,269.15 509.25,265.50 C513.67,261.85 519.13,256.08 523.30,251.40 C527.47,246.72 531.12,242.34 534.25,237.40 C537.38,232.46 540.14,226.70 542.10,221.75 C544.06,216.80 545.17,212.39 546.00,207.70 C546.83,203.01 547.23,198.28 547.10,193.60 C546.97,188.92 546.57,184.55 545.20,179.60 C543.83,174.65 541.77,168.85 538.90,163.90 C536.03,158.95 532.17,153.93 528.00,149.90 C523.83,145.87 518.85,142.31 513.90,139.70 C508.95,137.09 503.87,135.55 498.30,134.25 C492.73,132.95 483.72,132.29 480.50,131.90 C477.28,131.51 479.25,131.90 479.00,131.90 Z" transform="translate(479.0 207) scale(0.952) translate(-479.0 -207)" fill="none" stroke="#444" stroke-width="1.0"/>
<path d="M479.00,131.90 C478.75,131.90 480.72,131.51 477.50,131.90 C474.28,132.29 465.27,132.95 459.70,134.25 C454.13,135.55 449.05,137.09 444.10,139.70 C439.15,142.31 434.17,145.87 430.00,149.90 C425.83,153.93 421.97,158.95 419.10,163.90 C416.23,168.85 414.17,174.65 412.80,179.60 C411.43,184.55 411.03,188.92 410.90,193.60 C410.77,198.28 411.17,203.01 412.00,207.70 C412.83,212.39 413.94,216.80 415.90,221.75 C417.86,226.70 420.62,232.46 423.75,237.40 C426.88,242.34 430.53,246.72 434.70,251.40 C438.87,256.08 444.32,261.85 448.75,265.50 C453.18,269.15 457.71,271.05 461.25,273.30 C464.79,275.55 468.48,277.60 470.00,279.00 C471.52,280.40 470.33,281.25 470.40,281.70 L487.60,281.70 C487.67,281.25 486.48,280.40 488.00,279.00 C489.52,277.60 493.21,275.55 496.75,273.30 C500.29,271.05 504.82,269.15 509.25,265.50 C513.67,261.85 519.13,256.08 523.30,251.40 C527.47,246.72 531.12,242.34 534.25,237.40 C537.38,232.46 540.14,226.70 542.10,221.75 C544.06,216.80 545.17,212.39 546.00,207.70 C546.83,203.01 547.23,198.28 547.10,193.60 C546.97,188.92 546.57,184.55 545.20,179.60 C543.83,174.65 541.77,168.85 538.90,163.90 C536.03,158.95 532.17,153.93 528.00,149.90 C523.83,145.87 518.85,142.31 513.90,139.70 C508.95,137.09 503.87,135.55 498.30,134.25 C492.73,132.95 483.72,132.29 480.50,131.90 C477.28,131.51 479.25,131.90 479.00,131.90 Z" transform="translate(479.0 207) scale(0.975) translate(-479.0 -207)" fill="none" stroke="#9a9a9a" stroke-width="0.8" stroke-dasharray="1.2 1.6"/>
<g clip-path="url(#cDo)"><rect x="466.00" y="264.70" width="26" height="17" fill="#fff"/><path d="M466.00,264.70 L492.00,264.70 M466.00,270.70 L492.00,270.70 M466.00,274.70 L492.00,274.70" stroke="#777" stroke-width="0.8"/><path d="M467.00,264.70 L469.00,281.70 M491.00,264.70 L489.00,281.70" stroke="#777" stroke-width="0.8"/></g>
<rect x="470.00" y="133.90" width="18.00" height="147.80" fill="#fff"/>
<rect x="473.00" y="139.90" width="12" height="68.91" fill="#dedede"/>
<rect x="473.00" y="227.77" width="12" height="29.96" fill="#e2e2e2"/>
<rect x="477.50" y="139.90" width="2.6" height="68.91" fill="#bdbdbd"/>
<path d="M470.50,134.90 L470.50,281.70 M472.50,134.90 L472.50,281.70 M473.00,134.90 L473.00,281.70 M485.00,134.90 L485.00,281.70 M485.50,134.90 L485.50,281.70 M487.50,134.90 L487.50,281.70" stroke="#808080" stroke-width="0.7" fill="none"/>
<path d="M470.00,136.90 L488.00,136.90 M470.00,139.90 L488.00,139.90 M470.00,208.81 L488.00,208.81 M470.00,261.70 L488.00,261.70 M470.00,268.70 L488.00,268.70 M470.00,273.70 L488.00,273.70 M470.00,277.70 L488.00,277.70" stroke="#888" stroke-width="0.7" fill="none"/>
<path d="M479.00,131.90 C478.75,131.90 480.72,131.51 477.50,131.90 C474.28,132.29 465.27,132.95 459.70,134.25 C454.13,135.55 449.05,137.09 444.10,139.70 C439.15,142.31 434.17,145.87 430.00,149.90 C425.83,153.93 421.97,158.95 419.10,163.90 C416.23,168.85 414.17,174.65 412.80,179.60 C411.43,184.55 411.03,188.92 410.90,193.60 C410.77,198.28 411.17,203.01 412.00,207.70 C412.83,212.39 413.94,216.80 415.90,221.75 C417.86,226.70 420.62,232.46 423.75,237.40 C426.88,242.34 430.53,246.72 434.70,251.40 C438.87,256.08 444.32,261.85 448.75,265.50 C453.18,269.15 457.71,271.05 461.25,273.30 C464.79,275.55 468.48,277.60 470.00,279.00 C471.52,280.40 470.33,281.25 470.40,281.70 L487.60,281.70 C487.67,281.25 486.48,280.40 488.00,279.00 C489.52,277.60 493.21,275.55 496.75,273.30 C500.29,271.05 504.82,269.15 509.25,265.50 C513.67,261.85 519.13,256.08 523.30,251.40 C527.47,246.72 531.12,242.34 534.25,237.40 C537.38,232.46 540.14,226.70 542.10,221.75 C544.06,216.80 545.17,212.39 546.00,207.70 C546.83,203.01 547.23,198.28 547.10,193.60 C546.97,188.92 546.57,184.55 545.20,179.60 C543.83,174.65 541.77,168.85 538.90,163.90 C536.03,158.95 532.17,153.93 528.00,149.90 C523.83,145.87 518.85,142.31 513.90,139.70 C508.95,137.09 503.87,135.55 498.30,134.25 C492.73,132.95 483.72,132.29 480.50,131.90 C477.28,131.51 479.25,131.90 479.00,131.90 Z" fill="none" stroke="#1e1e1e" stroke-width="1.9" stroke-linejoin="round"/>
<path d="M470.50,136.40 Q479.00,128.70 487.50,136.40" fill="#d0d0d0" stroke="#333" stroke-width="1.2"/>
<clipPath id="cV"><path d="M775.6,133.5 L710.50,162.50 L707.80,166.50 L707.80,185.50 L709.50,189.50 L765.60,280.00 L785.60,280.0 L785.60,280.00 L841.70,189.50 L843.40,185.50 L843.40,166.50 L840.70,162.50 Z" transform="translate(775.6 200) scale(0.952) translate(-775.6 -200)"/></clipPath>
<clipPath id="cVo"><path d="M775.6,133.5 L710.50,162.50 L707.80,166.50 L707.80,185.50 L709.50,189.50 L765.60,280.00 L785.60,280.0 L785.60,280.00 L841.70,189.50 L843.40,185.50 L843.40,166.50 L840.70,162.50 Z"/></clipPath>
<g clip-path="url(#cV)"><path d="M695.6,-17.8 L855.6,142.2 M695.6,-2.8 L855.6,157.2 M695.6,12.2 L855.6,172.2 M695.6,27.2 L855.6,187.2 M695.6,42.2 L855.6,202.2 M695.6,57.2 L855.6,217.2 M695.6,72.2 L855.6,232.2 M695.6,87.2 L855.6,247.2 M695.6,102.2 L855.6,262.2 M695.6,117.2 L855.6,277.2 M695.6,132.2 L855.6,292.2 M695.6,147.2 L855.6,307.2 M695.6,162.2 L855.6,322.2 M695.6,177.2 L855.6,337.2 M695.6,192.2 L855.6,352.2 M695.6,207.2 L855.6,367.2 M695.6,222.2 L855.6,382.2 M695.6,237.2 L855.6,397.2 M695.6,252.2 L855.6,412.2 M695.6,267.2 L855.6,427.2 M695.6,282.2 L855.6,442.2 M695.6,137.8 L855.6,-22.2 M695.6,152.8 L855.6,-7.2 M695.6,167.8 L855.6,7.8 M695.6,182.8 L855.6,22.8 M695.6,197.8 L855.6,37.8 M695.6,212.8 L855.6,52.8 M695.6,227.8 L855.6,67.8 M695.6,242.8 L855.6,82.8 M695.6,257.8 L855.6,97.8 M695.6,272.8 L855.6,112.8 M695.6,287.8 L855.6,127.8 M695.6,302.8 L855.6,142.8 M695.6,317.8 L855.6,157.8 M695.6,332.8 L855.6,172.8 M695.6,347.8 L855.6,187.8 M695.6,362.8 L855.6,202.8 M695.6,377.8 L855.6,217.8 M695.6,392.8 L855.6,232.8 M695.6,407.8 L855.6,247.8 M695.6,422.8 L855.6,262.8 M695.6,437.8 L855.6,277.8" stroke="#2e2e2e" stroke-width="2.2" fill="none"/><path d="M846.5,135.0 a1.9,1.9 0 1,0 3.8,0 a1.9,1.9 0 1,0 -3.8,0 M831.5,135.0 a1.9,1.9 0 1,0 3.8,0 a1.9,1.9 0 1,0 -3.8,0 M839.0,142.5 a1.9,1.9 0 1,0 3.8,0 a1.9,1.9 0 1,0 -3.8,0 M846.5,150.0 a1.9,1.9 0 1,0 3.8,0 a1.9,1.9 0 1,0 -3.8,0 M816.5,135.0 a1.9,1.9 0 1,0 3.8,0 a1.9,1.9 0 1,0 -3.8,0 M824.0,142.5 a1.9,1.9 0 1,0 3.8,0 a1.9,1.9 0 1,0 -3.8,0 M831.5,150.0 a1.9,1.9 0 1,0 3.8,0 a1.9,1.9 0 1,0 -3.8,0 M839.0,157.5 a1.9,1.9 0 1,0 3.8,0 a1.9,1.9 0 1,0 -3.8,0 M846.5,165.0 a1.9,1.9 0 1,0 3.8,0 a1.9,1.9 0 1,0 -3.8,0 M801.5,135.0 a1.9,1.9 0 1,0 3.8,0 a1.9,1.9 0 1,0 -3.8,0 M809.0,142.5 a1.9,1.9 0 1,0 3.8,0 a1.9,1.9 0 1,0 -3.8,0 M816.5,150.0 a1.9,1.9 0 1,0 3.8,0 a1.9,1.9 0 1,0 -3.8,0 M824.0,157.5 a1.9,1.9 0 1,0 3.8,0 a1.9,1.9 0 1,0 -3.8,0 M831.5,165.0 a1.9,1.9 0 1,0 3.8,0 a1.9,1.9 0 1,0 -3.8,0 M839.0,172.5 a1.9,1.9 0 1,0 3.8,0 a1.9,1.9 0 1,0 -3.8,0 M846.5,180.0 a1.9,1.9 0 1,0 3.8,0 a1.9,1.9 0 1,0 -3.8,0 M786.5,135.0 a1.9,1.9 0 1,0 3.8,0 a1.9,1.9 0 1,0 -3.8,0 M794.0,142.5 a1.9,1.9 0 1,0 3.8,0 a1.9,1.9 0 1,0 -3.8,0 M801.5,150.0 a1.9,1.9 0 1,0 3.8,0 a1.9,1.9 0 1,0 -3.8,0 M809.0,157.5 a1.9,1.9 0 1,0 3.8,0 a1.9,1.9 0 1,0 -3.8,0 M816.5,165.0 a1.9,1.9 0 1,0 3.8,0 a1.9,1.9 0 1,0 -3.8,0 M824.0,172.5 a1.9,1.9 0 1,0 3.8,0 a1.9,1.9 0 1,0 -3.8,0 M831.5,180.0 a1.9,1.9 0 1,0 3.8,0 a1.9,1.9 0 1,0 -3.8,0 M839.0,187.5 a1.9,1.9 0 1,0 3.8,0 a1.9,1.9 0 1,0 -3.8,0 M846.5,195.0 a1.9,1.9 0 1,0 3.8,0 a1.9,1.9 0 1,0 -3.8,0 M771.5,135.0 a1.9,1.9 0 1,0 3.8,0 a1.9,1.9 0 1,0 -3.8,0 M779.0,142.5 a1.9,1.9 0 1,0 3.8,0 a1.9,1.9 0 1,0 -3.8,0 M786.5,150.0 a1.9,1.9 0 1,0 3.8,0 a1.9,1.9 0 1,0 -3.8,0 M794.0,157.5 a1.9,1.9 0 1,0 3.8,0 a1.9,1.9 0 1,0 -3.8,0 M801.5,165.0 a1.9,1.9 0 1,0 3.8,0 a1.9,1.9 0 1,0 -3.8,0 M809.0,172.5 a1.9,1.9 0 1,0 3.8,0 a1.9,1.9 0 1,0 -3.8,0 M816.5,180.0 a1.9,1.9 0 1,0 3.8,0 a1.9,1.9 0 1,0 -3.8,0 M824.0,187.5 a1.9,1.9 0 1,0 3.8,0 a1.9,1.9 0 1,0 -3.8,0 M831.5,195.0 a1.9,1.9 0 1,0 3.8,0 a1.9,1.9 0 1,0 -3.8,0 M839.0,202.5 a1.9,1.9 0 1,0 3.8,0 a1.9,1.9 0 1,0 -3.8,0 M846.5,210.0 a1.9,1.9 0 1,0 3.8,0 a1.9,1.9 0 1,0 -3.8,0 M756.5,135.0 a1.9,1.9 0 1,0 3.8,0 a1.9,1.9 0 1,0 -3.8,0 M764.0,142.5 a1.9,1.9 0 1,0 3.8,0 a1.9,1.9 0 1,0 -3.8,0 M771.5,150.0 a1.9,1.9 0 1,0 3.8,0 a1.9,1.9 0 1,0 -3.8,0 M779.0,157.5 a1.9,1.9 0 1,0 3.8,0 a1.9,1.9 0 1,0 -3.8,0 M786.5,165.0 a1.9,1.9 0 1,0 3.8,0 a1.9,1.9 0 1,0 -3.8,0 M794.0,172.5 a1.9,1.9 0 1,0 3.8,0 a1.9,1.9 0 1,0 -3.8,0 M801.5,180.0 a1.9,1.9 0 1,0 3.8,0 a1.9,1.9 0 1,0 -3.8,0 M809.0,187.5 a1.9,1.9 0 1,0 3.8,0 a1.9,1.9 0 1,0 -3.8,0 M816.5,195.0 a1.9,1.9 0 1,0 3.8,0 a1.9,1.9 0 1,0 -3.8,0 M824.0,202.5 a1.9,1.9 0 1,0 3.8,0 a1.9,1.9 0 1,0 -3.8,0 M831.5,210.0 a1.9,1.9 0 1,0 3.8,0 a1.9,1.9 0 1,0 -3.8,0 M839.0,217.5 a1.9,1.9 0 1,0 3.8,0 a1.9,1.9 0 1,0 -3.8,0 M846.5,225.0 a1.9,1.9 0 1,0 3.8,0 a1.9,1.9 0 1,0 -3.8,0 M741.5,135.0 a1.9,1.9 0 1,0 3.8,0 a1.9,1.9 0 1,0 -3.8,0 M749.0,142.5 a1.9,1.9 0 1,0 3.8,0 a1.9,1.9 0 1,0 -3.8,0 M756.5,150.0 a1.9,1.9 0 1,0 3.8,0 a1.9,1.9 0 1,0 -3.8,0 M764.0,157.5 a1.9,1.9 0 1,0 3.8,0 a1.9,1.9 0 1,0 -3.8,0 M771.5,165.0 a1.9,1.9 0 1,0 3.8,0 a1.9,1.9 0 1,0 -3.8,0 M779.0,172.5 a1.9,1.9 0 1,0 3.8,0 a1.9,1.9 0 1,0 -3.8,0 M786.5,180.0 a1.9,1.9 0 1,0 3.8,0 a1.9,1.9 0 1,0 -3.8,0 M794.0,187.5 a1.9,1.9 0 1,0 3.8,0 a1.9,1.9 0 1,0 -3.8,0 M801.5,195.0 a1.9,1.9 0 1,0 3.8,0 a1.9,1.9 0 1,0 -3.8,0 M809.0,202.5 a1.9,1.9 0 1,0 3.8,0 a1.9,1.9 0 1,0 -3.8,0 M816.5,210.0 a1.9,1.9 0 1,0 3.8,0 a1.9,1.9 0 1,0 -3.8,0 M824.0,217.5 a1.9,1.9 0 1,0 3.8,0 a1.9,1.9 0 1,0 -3.8,0 M831.5,225.0 a1.9,1.9 0 1,0 3.8,0 a1.9,1.9 0 1,0 -3.8,0 M839.0,232.5 a1.9,1.9 0 1,0 3.8,0 a1.9,1.9 0 1,0 -3.8,0 M846.5,240.0 a1.9,1.9 0 1,0 3.8,0 a1.9,1.9 0 1,0 -3.8,0 M726.5,135.0 a1.9,1.9 0 1,0 3.8,0 a1.9,1.9 0 1,0 -3.8,0 M734.0,142.5 a1.9,1.9 0 1,0 3.8,0 a1.9,1.9 0 1,0 -3.8,0 M741.5,150.0 a1.9,1.9 0 1,0 3.8,0 a1.9,1.9 0 1,0 -3.8,0 M749.0,157.5 a1.9,1.9 0 1,0 3.8,0 a1.9,1.9 0 1,0 -3.8,0 M756.5,165.0 a1.9,1.9 0 1,0 3.8,0 a1.9,1.9 0 1,0 -3.8,0 M764.0,172.5 a1.9,1.9 0 1,0 3.8,0 a1.9,1.9 0 1,0 -3.8,0 M771.5,180.0 a1.9,1.9 0 1,0 3.8,0 a1.9,1.9 0 1,0 -3.8,0 M779.0,187.5 a1.9,1.9 0 1,0 3.8,0 a1.9,1.9 0 1,0 -3.8,0 M786.5,195.0 a1.9,1.9 0 1,0 3.8,0 a1.9,1.9 0 1,0 -3.8,0 M794.0,202.5 a1.9,1.9 0 1,0 3.8,0 a1.9,1.9 0 1,0 -3.8,0 M801.5,210.0 a1.9,1.9 0 1,0 3.8,0 a1.9,1.9 0 1,0 -3.8,0 M809.0,217.5 a1.9,1.9 0 1,0 3.8,0 a1.9,1.9 0 1,0 -3.8,0 M816.5,225.0 a1.9,1.9 0 1,0 3.8,0 a1.9,1.9 0 1,0 -3.8,0 M824.0,232.5 a1.9,1.9 0 1,0 3.8,0 a1.9,1.9 0 1,0 -3.8,0 M831.5,240.0 a1.9,1.9 0 1,0 3.8,0 a1.9,1.9 0 1,0 -3.8,0 M839.0,247.5 a1.9,1.9 0 1,0 3.8,0 a1.9,1.9 0 1,0 -3.8,0 M846.5,255.0 a1.9,1.9 0 1,0 3.8,0 a1.9,1.9 0 1,0 -3.8,0 M711.5,135.0 a1.9,1.9 0 1,0 3.8,0 a1.9,1.9 0 1,0 -3.8,0 M719.0,142.5 a1.9,1.9 0 1,0 3.8,0 a1.9,1.9 0 1,0 -3.8,0 M726.5,150.0 a1.9,1.9 0 1,0 3.8,0 a1.9,1.9 0 1,0 -3.8,0 M734.0,157.5 a1.9,1.9 0 1,0 3.8,0 a1.9,1.9 0 1,0 -3.8,0 M741.5,165.0 a1.9,1.9 0 1,0 3.8,0 a1.9,1.9 0 1,0 -3.8,0 M749.0,172.5 a1.9,1.9 0 1,0 3.8,0 a1.9,1.9 0 1,0 -3.8,0 M756.5,180.0 a1.9,1.9 0 1,0 3.8,0 a1.9,1.9 0 1,0 -3.8,0 M764.0,187.5 a1.9,1.9 0 1,0 3.8,0 a1.9,1.9 0 1,0 -3.8,0 M771.5,195.0 a1.9,1.9 0 1,0 3.8,0 a1.9,1.9 0 1,0 -3.8,0 M779.0,202.5 a1.9,1.9 0 1,0 3.8,0 a1.9,1.9 0 1,0 -3.8,0 M786.5,210.0 a1.9,1.9 0 1,0 3.8,0 a1.9,1.9 0 1,0 -3.8,0 M794.0,217.5 a1.9,1.9 0 1,0 3.8,0 a1.9,1.9 0 1,0 -3.8,0 M801.5,225.0 a1.9,1.9 0 1,0 3.8,0 a1.9,1.9 0 1,0 -3.8,0 M809.0,232.5 a1.9,1.9 0 1,0 3.8,0 a1.9,1.9 0 1,0 -3.8,0 M816.5,240.0 a1.9,1.9 0 1,0 3.8,0 a1.9,1.9 0 1,0 -3.8,0 M824.0,247.5 a1.9,1.9 0 1,0 3.8,0 a1.9,1.9 0 1,0 -3.8,0 M831.5,255.0 a1.9,1.9 0 1,0 3.8,0 a1.9,1.9 0 1,0 -3.8,0 M839.0,262.5 a1.9,1.9 0 1,0 3.8,0 a1.9,1.9 0 1,0 -3.8,0 M846.5,270.0 a1.9,1.9 0 1,0 3.8,0 a1.9,1.9 0 1,0 -3.8,0 M696.5,135.0 a1.9,1.9 0 1,0 3.8,0 a1.9,1.9 0 1,0 -3.8,0 M704.0,142.5 a1.9,1.9 0 1,0 3.8,0 a1.9,1.9 0 1,0 -3.8,0 M711.5,150.0 a1.9,1.9 0 1,0 3.8,0 a1.9,1.9 0 1,0 -3.8,0 M719.0,157.5 a1.9,1.9 0 1,0 3.8,0 a1.9,1.9 0 1,0 -3.8,0 M726.5,165.0 a1.9,1.9 0 1,0 3.8,0 a1.9,1.9 0 1,0 -3.8,0 M734.0,172.5 a1.9,1.9 0 1,0 3.8,0 a1.9,1.9 0 1,0 -3.8,0 M741.5,180.0 a1.9,1.9 0 1,0 3.8,0 a1.9,1.9 0 1,0 -3.8,0 M749.0,187.5 a1.9,1.9 0 1,0 3.8,0 a1.9,1.9 0 1,0 -3.8,0 M756.5,195.0 a1.9,1.9 0 1,0 3.8,0 a1.9,1.9 0 1,0 -3.8,0 M764.0,202.5 a1.9,1.9 0 1,0 3.8,0 a1.9,1.9 0 1,0 -3.8,0 M771.5,210.0 a1.9,1.9 0 1,0 3.8,0 a1.9,1.9 0 1,0 -3.8,0 M779.0,217.5 a1.9,1.9 0 1,0 3.8,0 a1.9,1.9 0 1,0 -3.8,0 M786.5,225.0 a1.9,1.9 0 1,0 3.8,0 a1.9,1.9 0 1,0 -3.8,0 M794.0,232.5 a1.9,1.9 0 1,0 3.8,0 a1.9,1.9 0 1,0 -3.8,0 M801.5,240.0 a1.9,1.9 0 1,0 3.8,0 a1.9,1.9 0 1,0 -3.8,0 M809.0,247.5 a1.9,1.9 0 1,0 3.8,0 a1.9,1.9 0 1,0 -3.8,0 M816.5,255.0 a1.9,1.9 0 1,0 3.8,0 a1.9,1.9 0 1,0 -3.8,0 M824.0,262.5 a1.9,1.9 0 1,0 3.8,0 a1.9,1.9 0 1,0 -3.8,0 M831.5,270.0 a1.9,1.9 0 1,0 3.8,0 a1.9,1.9 0 1,0 -3.8,0 M839.0,277.5 a1.9,1.9 0 1,0 3.8,0 a1.9,1.9 0 1,0 -3.8,0 M696.5,150.0 a1.9,1.9 0 1,0 3.8,0 a1.9,1.9 0 1,0 -3.8,0 M704.0,157.5 a1.9,1.9 0 1,0 3.8,0 a1.9,1.9 0 1,0 -3.8,0 M711.5,165.0 a1.9,1.9 0 1,0 3.8,0 a1.9,1.9 0 1,0 -3.8,0 M719.0,172.5 a1.9,1.9 0 1,0 3.8,0 a1.9,1.9 0 1,0 -3.8,0 M726.5,180.0 a1.9,1.9 0 1,0 3.8,0 a1.9,1.9 0 1,0 -3.8,0 M734.0,187.5 a1.9,1.9 0 1,0 3.8,0 a1.9,1.9 0 1,0 -3.8,0 M741.5,195.0 a1.9,1.9 0 1,0 3.8,0 a1.9,1.9 0 1,0 -3.8,0 M749.0,202.5 a1.9,1.9 0 1,0 3.8,0 a1.9,1.9 0 1,0 -3.8,0 M756.5,210.0 a1.9,1.9 0 1,0 3.8,0 a1.9,1.9 0 1,0 -3.8,0 M764.0,217.5 a1.9,1.9 0 1,0 3.8,0 a1.9,1.9 0 1,0 -3.8,0 M771.5,225.0 a1.9,1.9 0 1,0 3.8,0 a1.9,1.9 0 1,0 -3.8,0 M779.0,232.5 a1.9,1.9 0 1,0 3.8,0 a1.9,1.9 0 1,0 -3.8,0 M786.5,240.0 a1.9,1.9 0 1,0 3.8,0 a1.9,1.9 0 1,0 -3.8,0 M794.0,247.5 a1.9,1.9 0 1,0 3.8,0 a1.9,1.9 0 1,0 -3.8,0 M801.5,255.0 a1.9,1.9 0 1,0 3.8,0 a1.9,1.9 0 1,0 -3.8,0 M809.0,262.5 a1.9,1.9 0 1,0 3.8,0 a1.9,1.9 0 1,0 -3.8,0 M816.5,270.0 a1.9,1.9 0 1,0 3.8,0 a1.9,1.9 0 1,0 -3.8,0 M824.0,277.5 a1.9,1.9 0 1,0 3.8,0 a1.9,1.9 0 1,0 -3.8,0 M696.5,165.0 a1.9,1.9 0 1,0 3.8,0 a1.9,1.9 0 1,0 -3.8,0 M704.0,172.5 a1.9,1.9 0 1,0 3.8,0 a1.9,1.9 0 1,0 -3.8,0 M711.5,180.0 a1.9,1.9 0 1,0 3.8,0 a1.9,1.9 0 1,0 -3.8,0 M719.0,187.5 a1.9,1.9 0 1,0 3.8,0 a1.9,1.9 0 1,0 -3.8,0 M726.5,195.0 a1.9,1.9 0 1,0 3.8,0 a1.9,1.9 0 1,0 -3.8,0 M734.0,202.5 a1.9,1.9 0 1,0 3.8,0 a1.9,1.9 0 1,0 -3.8,0 M741.5,210.0 a1.9,1.9 0 1,0 3.8,0 a1.9,1.9 0 1,0 -3.8,0 M749.0,217.5 a1.9,1.9 0 1,0 3.8,0 a1.9,1.9 0 1,0 -3.8,0 M756.5,225.0 a1.9,1.9 0 1,0 3.8,0 a1.9,1.9 0 1,0 -3.8,0 M764.0,232.5 a1.9,1.9 0 1,0 3.8,0 a1.9,1.9 0 1,0 -3.8,0 M771.5,240.0 a1.9,1.9 0 1,0 3.8,0 a1.9,1.9 0 1,0 -3.8,0 M779.0,247.5 a1.9,1.9 0 1,0 3.8,0 a1.9,1.9 0 1,0 -3.8,0 M786.5,255.0 a1.9,1.9 0 1,0 3.8,0 a1.9,1.9 0 1,0 -3.8,0 M794.0,262.5 a1.9,1.9 0 1,0 3.8,0 a1.9,1.9 0 1,0 -3.8,0 M801.5,270.0 a1.9,1.9 0 1,0 3.8,0 a1.9,1.9 0 1,0 -3.8,0 M809.0,277.5 a1.9,1.9 0 1,0 3.8,0 a1.9,1.9 0 1,0 -3.8,0 M696.5,180.0 a1.9,1.9 0 1,0 3.8,0 a1.9,1.9 0 1,0 -3.8,0 M704.0,187.5 a1.9,1.9 0 1,0 3.8,0 a1.9,1.9 0 1,0 -3.8,0 M711.5,195.0 a1.9,1.9 0 1,0 3.8,0 a1.9,1.9 0 1,0 -3.8,0 M719.0,202.5 a1.9,1.9 0 1,0 3.8,0 a1.9,1.9 0 1,0 -3.8,0 M726.5,210.0 a1.9,1.9 0 1,0 3.8,0 a1.9,1.9 0 1,0 -3.8,0 M734.0,217.5 a1.9,1.9 0 1,0 3.8,0 a1.9,1.9 0 1,0 -3.8,0 M741.5,225.0 a1.9,1.9 0 1,0 3.8,0 a1.9,1.9 0 1,0 -3.8,0 M749.0,232.5 a1.9,1.9 0 1,0 3.8,0 a1.9,1.9 0 1,0 -3.8,0 M756.5,240.0 a1.9,1.9 0 1,0 3.8,0 a1.9,1.9 0 1,0 -3.8,0 M764.0,247.5 a1.9,1.9 0 1,0 3.8,0 a1.9,1.9 0 1,0 -3.8,0 M771.5,255.0 a1.9,1.9 0 1,0 3.8,0 a1.9,1.9 0 1,0 -3.8,0 M779.0,262.5 a1.9,1.9 0 1,0 3.8,0 a1.9,1.9 0 1,0 -3.8,0 M786.5,270.0 a1.9,1.9 0 1,0 3.8,0 a1.9,1.9 0 1,0 -3.8,0 M794.0,277.5 a1.9,1.9 0 1,0 3.8,0 a1.9,1.9 0 1,0 -3.8,0 M696.5,195.0 a1.9,1.9 0 1,0 3.8,0 a1.9,1.9 0 1,0 -3.8,0 M704.0,202.5 a1.9,1.9 0 1,0 3.8,0 a1.9,1.9 0 1,0 -3.8,0 M711.5,210.0 a1.9,1.9 0 1,0 3.8,0 a1.9,1.9 0 1,0 -3.8,0 M719.0,217.5 a1.9,1.9 0 1,0 3.8,0 a1.9,1.9 0 1,0 -3.8,0 M726.5,225.0 a1.9,1.9 0 1,0 3.8,0 a1.9,1.9 0 1,0 -3.8,0 M734.0,232.5 a1.9,1.9 0 1,0 3.8,0 a1.9,1.9 0 1,0 -3.8,0 M741.5,240.0 a1.9,1.9 0 1,0 3.8,0 a1.9,1.9 0 1,0 -3.8,0 M749.0,247.5 a1.9,1.9 0 1,0 3.8,0 a1.9,1.9 0 1,0 -3.8,0 M756.5,255.0 a1.9,1.9 0 1,0 3.8,0 a1.9,1.9 0 1,0 -3.8,0 M764.0,262.5 a1.9,1.9 0 1,0 3.8,0 a1.9,1.9 0 1,0 -3.8,0 M771.5,270.0 a1.9,1.9 0 1,0 3.8,0 a1.9,1.9 0 1,0 -3.8,0 M779.0,277.5 a1.9,1.9 0 1,0 3.8,0 a1.9,1.9 0 1,0 -3.8,0 M696.5,210.0 a1.9,1.9 0 1,0 3.8,0 a1.9,1.9 0 1,0 -3.8,0 M704.0,217.5 a1.9,1.9 0 1,0 3.8,0 a1.9,1.9 0 1,0 -3.8,0 M711.5,225.0 a1.9,1.9 0 1,0 3.8,0 a1.9,1.9 0 1,0 -3.8,0 M719.0,232.5 a1.9,1.9 0 1,0 3.8,0 a1.9,1.9 0 1,0 -3.8,0 M726.5,240.0 a1.9,1.9 0 1,0 3.8,0 a1.9,1.9 0 1,0 -3.8,0 M734.0,247.5 a1.9,1.9 0 1,0 3.8,0 a1.9,1.9 0 1,0 -3.8,0 M741.5,255.0 a1.9,1.9 0 1,0 3.8,0 a1.9,1.9 0 1,0 -3.8,0 M749.0,262.5 a1.9,1.9 0 1,0 3.8,0 a1.9,1.9 0 1,0 -3.8,0 M756.5,270.0 a1.9,1.9 0 1,0 3.8,0 a1.9,1.9 0 1,0 -3.8,0 M764.0,277.5 a1.9,1.9 0 1,0 3.8,0 a1.9,1.9 0 1,0 -3.8,0 M696.5,225.0 a1.9,1.9 0 1,0 3.8,0 a1.9,1.9 0 1,0 -3.8,0 M704.0,232.5 a1.9,1.9 0 1,0 3.8,0 a1.9,1.9 0 1,0 -3.8,0 M711.5,240.0 a1.9,1.9 0 1,0 3.8,0 a1.9,1.9 0 1,0 -3.8,0 M719.0,247.5 a1.9,1.9 0 1,0 3.8,0 a1.9,1.9 0 1,0 -3.8,0 M726.5,255.0 a1.9,1.9 0 1,0 3.8,0 a1.9,1.9 0 1,0 -3.8,0 M734.0,262.5 a1.9,1.9 0 1,0 3.8,0 a1.9,1.9 0 1,0 -3.8,0 M741.5,270.0 a1.9,1.9 0 1,0 3.8,0 a1.9,1.9 0 1,0 -3.8,0 M749.0,277.5 a1.9,1.9 0 1,0 3.8,0 a1.9,1.9 0 1,0 -3.8,0 M696.5,240.0 a1.9,1.9 0 1,0 3.8,0 a1.9,1.9 0 1,0 -3.8,0 M704.0,247.5 a1.9,1.9 0 1,0 3.8,0 a1.9,1.9 0 1,0 -3.8,0 M711.5,255.0 a1.9,1.9 0 1,0 3.8,0 a1.9,1.9 0 1,0 -3.8,0 M719.0,262.5 a1.9,1.9 0 1,0 3.8,0 a1.9,1.9 0 1,0 -3.8,0 M726.5,270.0 a1.9,1.9 0 1,0 3.8,0 a1.9,1.9 0 1,0 -3.8,0 M734.0,277.5 a1.9,1.9 0 1,0 3.8,0 a1.9,1.9 0 1,0 -3.8,0 M696.5,255.0 a1.9,1.9 0 1,0 3.8,0 a1.9,1.9 0 1,0 -3.8,0 M704.0,262.5 a1.9,1.9 0 1,0 3.8,0 a1.9,1.9 0 1,0 -3.8,0 M711.5,270.0 a1.9,1.9 0 1,0 3.8,0 a1.9,1.9 0 1,0 -3.8,0 M719.0,277.5 a1.9,1.9 0 1,0 3.8,0 a1.9,1.9 0 1,0 -3.8,0 M696.5,270.0 a1.9,1.9 0 1,0 3.8,0 a1.9,1.9 0 1,0 -3.8,0 M704.0,277.5 a1.9,1.9 0 1,0 3.8,0 a1.9,1.9 0 1,0 -3.8,0" fill="#111"/></g>
<path d="M775.6,133.5 L710.50,162.50 L707.80,166.50 L707.80,185.50 L709.50,189.50 L765.60,280.00 L785.60,280.0 L785.60,280.00 L841.70,189.50 L843.40,185.50 L843.40,166.50 L840.70,162.50 Z" transform="translate(775.6 200) scale(0.952) translate(-775.6 -200)" fill="none" stroke="#444" stroke-width="1.0"/>
<path d="M775.6,133.5 L710.50,162.50 L707.80,166.50 L707.80,185.50 L709.50,189.50 L765.60,280.00 L785.60,280.0 L785.60,280.00 L841.70,189.50 L843.40,185.50 L843.40,166.50 L840.70,162.50 Z" transform="translate(775.6 200) scale(0.975) translate(-775.6 -200)" fill="none" stroke="#9a9a9a" stroke-width="0.8" stroke-dasharray="1.2 1.6"/>
<g clip-path="url(#cVo)"><rect x="762.60" y="263.00" width="26" height="17" fill="#fff"/><path d="M762.60,263.00 L788.60,263.00 M762.60,269.00 L788.60,269.00 M762.60,273.00 L788.60,273.00" stroke="#777" stroke-width="0.8"/><path d="M764.40,263.00 L766.40,280.00 M786.80,263.00 L784.80,280.00" stroke="#777" stroke-width="0.8"/></g>
<rect x="767.40" y="135.50" width="16.40" height="144.50" fill="#fff"/>
<rect x="769.60" y="141.50" width="12" height="67.39" fill="#dedede"/>
<rect x="769.60" y="227.26" width="12" height="29.30" fill="#e2e2e2"/>
<rect x="774.10" y="141.50" width="2.6" height="67.39" fill="#bdbdbd"/>
<path d="M767.90,136.50 L767.90,280.00 M769.90,136.50 L769.90,280.00 M769.60,136.50 L769.60,280.00 M781.60,136.50 L781.60,280.00 M781.30,136.50 L781.30,280.00 M783.30,136.50 L783.30,280.00" stroke="#808080" stroke-width="0.7" fill="none"/>
<path d="M767.40,138.50 L783.80,138.50 M767.40,141.50 L783.80,141.50 M767.40,208.89 L783.80,208.89 M767.40,260.00 L783.80,260.00 M767.40,267.00 L783.80,267.00 M767.40,272.00 L783.80,272.00 M767.40,276.00 L783.80,276.00" stroke="#888" stroke-width="0.7" fill="none"/>
<path d="M775.6,133.5 L710.50,162.50 L707.80,166.50 L707.80,185.50 L709.50,189.50 L765.60,280.00 L785.60,280.0 L785.60,280.00 L841.70,189.50 L843.40,185.50 L843.40,166.50 L840.70,162.50 Z" fill="none" stroke="#1e1e1e" stroke-width="1.9" stroke-linejoin="round"/>
<path d="M767.90,138.00 Q775.60,130.30 783.30,138.00" fill="#d0d0d0" stroke="#333" stroke-width="1.2"/>
<text transform="matrix(0.23301 0 0 0.27919 151.79 121.29)" font-family='Liberation Sans, sans-serif' font-weight="bold" font-size="100" fill="#7a84bd" stroke="#7a84bd" stroke-width="4.5" stroke-linejoin="round">TYPE</text>
<text transform="matrix(0.28000 0 0 0.30000 214.68 122.40)" font-family='Liberation Sans, sans-serif' font-weight="bold" font-size="100" fill="#7a84bd" >-</text>
<text transform="matrix(0.28182 0 0 0.40519 225.40 120.98)" font-family='Liberation Sans, sans-serif' font-weight="bold" font-size="100" fill="#7a84bd" stroke="#7a84bd" stroke-width="6" stroke-linejoin="round">S</text>
<text transform="matrix(0.23301 0 0 0.27919 148.99 117.89)" font-family='Liberation Sans, sans-serif' font-weight="bold" font-size="100" fill="#000" stroke="#000" stroke-width="4.5" stroke-linejoin="round">TYPE</text>
<text transform="matrix(0.28000 0 0 0.30000 211.88 119.00)" font-family='Liberation Sans, sans-serif' font-weight="bold" font-size="100" fill="#000" >-</text>
<text transform="matrix(0.28182 0 0 0.40519 222.60 117.58)" font-family='Liberation Sans, sans-serif' font-weight="bold" font-size="100" fill="#000" stroke="#000" stroke-width="6" stroke-linejoin="round">S</text>
<text transform="matrix(0.23532 0 0 0.27919 433.69 121.29)" font-family='Liberation Sans, sans-serif' font-weight="bold" font-size="100" fill="#7a84bd" stroke="#7a84bd" stroke-width="4.5" stroke-linejoin="round">TYPE</text>
<text transform="matrix(0.27600 0 0 0.30000 497.30 122.40)" font-family='Liberation Sans, sans-serif' font-weight="bold" font-size="100" fill="#7a84bd" >-</text>
<text transform="matrix(0.30746 0 0 0.41467 507.87 121.36)" font-family='Liberation Sans, sans-serif' font-weight="bold" font-size="100" fill="#7a84bd" stroke="#7a84bd" stroke-width="6" stroke-linejoin="round">D</text>
<text transform="matrix(0.23532 0 0 0.27919 430.89 117.89)" font-family='Liberation Sans, sans-serif' font-weight="bold" font-size="100" fill="#000" stroke="#000" stroke-width="4.5" stroke-linejoin="round">TYPE</text>
<text transform="matrix(0.27600 0 0 0.30000 494.50 119.00)" font-family='Liberation Sans, sans-serif' font-weight="bold" font-size="100" fill="#000" >-</text>
<text transform="matrix(0.30746 0 0 0.41467 505.07 117.96)" font-family='Liberation Sans, sans-serif' font-weight="bold" font-size="100" fill="#000" stroke="#000" stroke-width="6" stroke-linejoin="round">D</text>
<text transform="matrix(0.23493 0 0 0.27919 729.99 121.29)" font-family='Liberation Sans, sans-serif' font-weight="bold" font-size="100" fill="#7a84bd" stroke="#7a84bd" stroke-width="4.5" stroke-linejoin="round">TYPE</text>
<text transform="matrix(0.24400 0 0 0.30000 793.72 122.40)" font-family='Liberation Sans, sans-serif' font-weight="bold" font-size="100" fill="#7a84bd" >-</text>
<text transform="matrix(0.34366 0 0 0.41600 803.49 121.35)" font-family='Liberation Sans, sans-serif' font-weight="bold" font-size="100" fill="#7a84bd" stroke="#7a84bd" stroke-width="6" stroke-linejoin="round">V</text>
<text transform="matrix(0.23493 0 0 0.27919 727.19 117.89)" font-family='Liberation Sans, sans-serif' font-weight="bold" font-size="100" fill="#000" stroke="#000" stroke-width="4.5" stroke-linejoin="round">TYPE</text>
<text transform="matrix(0.24400 0 0 0.30000 790.92 119.00)" font-family='Liberation Sans, sans-serif' font-weight="bold" font-size="100" fill="#000" >-</text>
<text transform="matrix(0.34366 0 0 0.41600 800.69 117.95)" font-family='Liberation Sans, sans-serif' font-weight="bold" font-size="100" fill="#000" stroke="#000" stroke-width="6" stroke-linejoin="round">V</text>
<text transform="matrix(0.47603 0 0 0.69530 18.15 453.29)" font-family='Liberation Sans, sans-serif' font-weight="normal" font-size="100" fill="#7a84bd" stroke="#7a84bd" stroke-width="3.5">S</text>
<text transform="matrix(0.47603 0 0 0.69530 15.55 449.89)" font-family='Liberation Sans, sans-serif' font-weight="normal" font-size="100" fill="#000" stroke="#000" stroke-width="3.5">S</text>
<text transform="matrix(0.60480 0 0 0.69103 12.02 678.09)" font-family='Liberation Sans, sans-serif' font-weight="normal" font-size="100" fill="#7a84bd" stroke="#7a84bd" stroke-width="3.5">D</text>
<text transform="matrix(0.60480 0 0 0.69103 9.42 674.69)" font-family='Liberation Sans, sans-serif' font-weight="normal" font-size="100" fill="#000" stroke="#000" stroke-width="3.5">D</text>
<text transform="matrix(0.57810 0 0 0.69103 15.33 898.59)" font-family='Liberation Sans, sans-serif' font-weight="normal" font-size="100" fill="#7a84bd" stroke="#7a84bd" stroke-width="3.5">V</text>
<text transform="matrix(0.57810 0 0 0.69103 12.73 895.19)" font-family='Liberation Sans, sans-serif' font-weight="normal" font-size="100" fill="#000" stroke="#000" stroke-width="3.5">V</text>
<text transform="matrix(0.13399 0 0 0.15135 171.45 346.42)" font-family='Liberation Sans, sans-serif' font-weight="bold" font-size="100" fill="#2e2828" stroke="#2e2828" stroke-width="3" stroke-linejoin="round">S-1</text>
<text transform="matrix(0.13487 0 0 0.15135 282.05 346.42)" font-family='Liberation Sans, sans-serif' font-weight="bold" font-size="100" fill="#2e2828" stroke="#2e2828" stroke-width="3" stroke-linejoin="round">S-2</text>
<text transform="matrix(0.13487 0 0 0.15135 398.35 346.42)" font-family='Liberation Sans, sans-serif' font-weight="bold" font-size="100" fill="#2e2828" stroke="#2e2828" stroke-width="3" stroke-linejoin="round">S-3</text>
<text transform="matrix(0.13226 0 0 0.15135 527.35 346.42)" font-family='Liberation Sans, sans-serif' font-weight="bold" font-size="100" fill="#2e2828" stroke="#2e2828" stroke-width="3" stroke-linejoin="round">S-4</text>
<text transform="matrix(0.13399 0 0 0.15135 664.85 346.42)" font-family='Liberation Sans, sans-serif' font-weight="bold" font-size="100" fill="#2e2828" stroke="#2e2828" stroke-width="3" stroke-linejoin="round">S-5</text>
<text transform="matrix(0.13487 0 0 0.15135 811.85 346.42)" font-family='Liberation Sans, sans-serif' font-weight="bold" font-size="100" fill="#2e2828" stroke="#2e2828" stroke-width="3" stroke-linejoin="round">S-6</text>
<text transform="matrix(0.14629 0 0 0.15278 804.75 329.57)" font-family='Liberation Sans, sans-serif' font-weight="bold" font-size="100" fill="#e60f1e" stroke="#e60f1e" stroke-width="3" stroke-linejoin="round">NEW</text>
<text transform="matrix(0.15260 0 0 0.15278 168.31 570.17)" font-family='Liberation Sans, sans-serif' font-weight="bold" font-size="100" fill="#2e2828" stroke="#2e2828" stroke-width="3" stroke-linejoin="round">D-1</text>
<text transform="matrix(0.14629 0 0 0.15556 164.15 554.37)" font-family='Liberation Sans, sans-serif' font-weight="bold" font-size="100" fill="#e60f1e" stroke="#e60f1e" stroke-width="3" stroke-linejoin="round">NEW</text>
<text transform="matrix(0.15359 0 0 0.15068 280.21 570.17)" font-family='Liberation Sans, sans-serif' font-weight="bold" font-size="100" fill="#2e2828" stroke="#2e2828" stroke-width="3" stroke-linejoin="round">D-2</text>
<text transform="matrix(0.14629 0 0 0.15556 276.05 554.37)" font-family='Liberation Sans, sans-serif' font-weight="bold" font-size="100" fill="#e60f1e" stroke="#e60f1e" stroke-width="3" stroke-linejoin="round">NEW</text>
<text transform="matrix(0.15260 0 0 0.14865 396.21 570.03)" font-family='Liberation Sans, sans-serif' font-weight="bold" font-size="100" fill="#2e2828" stroke="#2e2828" stroke-width="3" stroke-linejoin="round">D-3</text>
<text transform="matrix(0.14968 0 0 0.15278 525.03 570.17)" font-family='Liberation Sans, sans-serif' font-weight="bold" font-size="100" fill="#2e2828" stroke="#2e2828" stroke-width="3" stroke-linejoin="round">D-4</text>
<text transform="matrix(0.14629 0 0 0.15556 520.85 554.37)" font-family='Liberation Sans, sans-serif' font-weight="bold" font-size="100" fill="#e60f1e" stroke="#e60f1e" stroke-width="3" stroke-linejoin="round">NEW</text>
<text transform="matrix(0.15260 0 0 0.15068 662.81 570.02)" font-family='Liberation Sans, sans-serif' font-weight="bold" font-size="100" fill="#2e2828" stroke="#2e2828" stroke-width="3" stroke-linejoin="round">D-5</text>
<text transform="matrix(0.14629 0 0 0.15556 658.65 554.37)" font-family='Liberation Sans, sans-serif' font-weight="bold" font-size="100" fill="#e60f1e" stroke="#e60f1e" stroke-width="3" stroke-linejoin="round">NEW</text>
<text transform="matrix(0.15260 0 0 0.14865 810.61 570.03)" font-family='Liberation Sans, sans-serif' font-weight="bold" font-size="100" fill="#2e2828" stroke="#2e2828" stroke-width="3" stroke-linejoin="round">D-6</text>
<text transform="matrix(0.14629 0 0 0.15556 806.45 554.37)" font-family='Liberation Sans, sans-serif' font-weight="bold" font-size="100" fill="#e60f1e" stroke="#e60f1e" stroke-width="3" stroke-linejoin="round">NEW</text>
<text transform="matrix(0.14765 0 0 0.15139 170.87 787.37)" font-family='Liberation Sans, sans-serif' font-weight="bold" font-size="100" fill="#2e2828" stroke="#2e2828" stroke-width="3" stroke-linejoin="round">V-1</text>
<text transform="matrix(0.14865 0 0 0.14932 281.37 787.38)" font-family='Liberation Sans, sans-serif' font-weight="bold" font-size="100" fill="#2e2828" stroke="#2e2828" stroke-width="3" stroke-linejoin="round">V-2</text>
<text transform="matrix(0.14629 0 0 0.15694 275.25 771.56)" font-family='Liberation Sans, sans-serif' font-weight="bold" font-size="100" fill="#e60f1e" stroke="#e60f1e" stroke-width="3" stroke-linejoin="round">NEW</text>
<text transform="matrix(0.14765 0 0 0.14730 397.67 787.23)" font-family='Liberation Sans, sans-serif' font-weight="bold" font-size="100" fill="#2e2828" stroke="#2e2828" stroke-width="3" stroke-linejoin="round">V-3</text>
<text transform="matrix(0.14629 0 0 0.15694 391.55 771.56)" font-family='Liberation Sans, sans-serif' font-weight="bold" font-size="100" fill="#e60f1e" stroke="#e60f1e" stroke-width="3" stroke-linejoin="round">NEW</text>
<text transform="matrix(0.14474 0 0 0.15139 526.17 787.37)" font-family='Liberation Sans, sans-serif' font-weight="bold" font-size="100" fill="#2e2828" stroke="#2e2828" stroke-width="3" stroke-linejoin="round">V-4</text>
<text transform="matrix(0.14629 0 0 0.15694 520.05 774.46)" font-family='Liberation Sans, sans-serif' font-weight="bold" font-size="100" fill="#e60f1e" stroke="#e60f1e" stroke-width="3" stroke-linejoin="round">NEW</text>
<text transform="matrix(0.14765 0 0 0.14932 663.77 787.23)" font-family='Liberation Sans, sans-serif' font-weight="bold" font-size="100" fill="#2e2828" stroke="#2e2828" stroke-width="3" stroke-linejoin="round">V-5</text>
<text transform="matrix(0.14765 0 0 0.14730 811.77 787.23)" font-family='Liberation Sans, sans-serif' font-weight="bold" font-size="100" fill="#2e2828" stroke="#2e2828" stroke-width="3" stroke-linejoin="round">V-6</text>
<text transform="matrix(0.14629 0 0 0.15694 805.65 771.56)" font-family='Liberation Sans, sans-serif' font-weight="bold" font-size="100" fill="#e60f1e" stroke="#e60f1e" stroke-width="3" stroke-linejoin="round">NEW</text>
<text transform="matrix(0.13308 0 0 0.16056 155.20 514.84)" font-family='Liberation Sans, sans-serif' font-weight="bold" font-size="100" fill="#2e2828" >SP-SLIM</text>
<text transform="matrix(0.12967 0 0 0.16056 263.59 514.84)" font-family='Liberation Sans, sans-serif' font-weight="bold" font-size="100" fill="#2e2828" >F-SHAPE</text>
<text transform="matrix(0.12877 0 0 0.16056 375.31 514.84)" font-family='Liberation Sans, sans-serif' font-weight="bold" font-size="100" fill="#2e2828" >SP-SHAPE</text>
<text transform="matrix(0.12929 0 0 0.16056 515.91 514.84)" font-family='Liberation Sans, sans-serif' font-weight="bold" font-size="100" fill="#2e2828" >SHAPE</text>
<text transform="matrix(0.13510 0 0 0.16056 638.69 514.84)" font-family='Liberation Sans, sans-serif' font-weight="bold" font-size="100" fill="#2e2828" >STANDARD</text>
<text transform="matrix(0.12564 0 0 0.15915 371.87 741.44)" font-family='Liberation Sans, sans-serif' font-weight="bold" font-size="100" fill="#2e2828" >TEAR DROP</text>
<text transform="matrix(0.13093 0 0 0.15211 156.91 958.25)" font-family='Liberation Sans, sans-serif' font-weight="bold" font-size="100" fill="#2e2828" >SP-KITE</text>
<text transform="matrix(0.13197 0 0 0.15211 441.40 958.25)" font-family='Liberation Sans, sans-serif' font-weight="bold" font-size="100" fill="#2e2828" >W-SHAPE</text>
<text transform="matrix(0.12442 0 0 0.15652 661.13 958.40)" font-family='Liberation Sans, sans-serif' font-weight="bold" font-size="100" fill="#2e2828" >KITE</text>
<text transform="matrix(0.23212 0 0 0.22176 85.99 998.33)" font-family='Liberation Sans, Noto Sans CJK JP, sans-serif' font-weight="normal" font-size="100" fill="#2e2828" stroke="#2e2828" stroke-width="2.5">①</text>
<text transform="matrix(0.23750 0 0 0.21846 109.33 998.69)" font-family='Liberation Sans, Noto Sans CJK JP, sans-serif' font-weight="normal" font-size="100" fill="#2e2828" >：</text>
<text transform="matrix(0.22707 0 0 0.25493 132.78 998.17)" font-family='Liberation Sans, sans-serif' font-weight="normal" font-size="100" fill="#2e2828" stroke="#2e2828" stroke-width="1.0">24</text>
<text transform="matrix(0.27551 0 0 0.24909 158.98 998.18)" font-family='Liberation Sans, sans-serif' font-weight="normal" font-size="100" fill="#2e2828" stroke="#2e2828" stroke-width="1.0">mm</text>
<text transform="matrix(0.23420 0 0 0.22176 227.29 998.33)" font-family='Liberation Sans, Noto Sans CJK JP, sans-serif' font-weight="normal" font-size="100" fill="#2e2828" stroke="#2e2828" stroke-width="2.5">②</text>
<text transform="matrix(0.23750 0 0 0.21846 244.82 998.69)" font-family='Liberation Sans, Noto Sans CJK JP, sans-serif' font-weight="normal" font-size="100" fill="#2e2828" >：</text>
<text transform="matrix(0.23423 0 0 0.25493 267.45 998.17)" font-family='Liberation Sans, sans-serif' font-weight="normal" font-size="100" fill="#2e2828" stroke="#2e2828" stroke-width="1.0">27</text>
<text transform="matrix(0.27867 0 0 0.24909 293.97 998.18)" font-family='Liberation Sans, sans-serif' font-weight="normal" font-size="100" fill="#2e2828" stroke="#2e2828" stroke-width="1.0">mm</text>
<text transform="matrix(0.23212 0 0 0.22176 363.59 998.33)" font-family='Liberation Sans, Noto Sans CJK JP, sans-serif' font-weight="normal" font-size="100" fill="#2e2828" stroke="#2e2828" stroke-width="2.5">③</text>
<text transform="matrix(0.23750 0 0 0.21846 381.02 998.69)" font-family='Liberation Sans, Noto Sans CJK JP, sans-serif' font-weight="normal" font-size="100" fill="#2e2828" >：</text>
<text transform="matrix(0.23138 0 0 0.25139 403.99 997.92)" font-family='Liberation Sans, sans-serif' font-weight="normal" font-size="100" fill="#2e2828" stroke="#2e2828" stroke-width="1.0">30</text>
<text transform="matrix(0.28064 0 0 0.24909 430.46 998.18)" font-family='Liberation Sans, sans-serif' font-weight="normal" font-size="100" fill="#2e2828" stroke="#2e2828" stroke-width="1.0">mm</text>
<text transform="matrix(0.23420 0 0 0.22176 499.59 998.33)" font-family='Liberation Sans, Noto Sans CJK JP, sans-serif' font-weight="normal" font-size="100" fill="#2e2828" stroke="#2e2828" stroke-width="2.5">④</text>
<text transform="matrix(0.23750 0 0 0.21846 517.53 998.69)" font-family='Liberation Sans, Noto Sans CJK JP, sans-serif' font-weight="normal" font-size="100" fill="#2e2828" >：</text>
<text transform="matrix(0.22707 0 0 0.25139 540.91 997.92)" font-family='Liberation Sans, sans-serif' font-weight="normal" font-size="100" fill="#2e2828" stroke="#2e2828" stroke-width="1.0">33</text>
<text transform="matrix(0.27551 0 0 0.24909 566.88 998.18)" font-family='Liberation Sans, sans-serif' font-weight="normal" font-size="100" fill="#2e2828" stroke="#2e2828" stroke-width="1.0">mm</text>
<text transform="matrix(0.23212 0 0 0.22176 636.19 998.33)" font-family='Liberation Sans, Noto Sans CJK JP, sans-serif' font-weight="normal" font-size="100" fill="#2e2828" stroke="#2e2828" stroke-width="2.5">⑤</text>
<text transform="matrix(0.23750 0 0 0.21846 654.03 998.69)" font-family='Liberation Sans, Noto Sans CJK JP, sans-serif' font-weight="normal" font-size="100" fill="#2e2828" >：</text>
<text transform="matrix(0.22707 0 0 0.25139 677.31 997.92)" font-family='Liberation Sans, sans-serif' font-weight="normal" font-size="100" fill="#2e2828" stroke="#2e2828" stroke-width="1.0">36</text>
<text transform="matrix(0.27551 0 0 0.24909 703.28 998.18)" font-family='Liberation Sans, sans-serif' font-weight="normal" font-size="100" fill="#2e2828" stroke="#2e2828" stroke-width="1.0">mm</text>
<text transform="matrix(0.23212 0 0 0.22176 771.79 998.33)" font-family='Liberation Sans, Noto Sans CJK JP, sans-serif' font-weight="normal" font-size="100" fill="#2e2828" stroke="#2e2828" stroke-width="2.5">⑥</text>
<text transform="matrix(0.23750 0 0 0.21846 789.63 998.69)" font-family='Liberation Sans, Noto Sans CJK JP, sans-serif' font-weight="normal" font-size="100" fill="#2e2828" >：</text>
<text transform="matrix(0.22526 0 0 0.25139 814.01 997.92)" font-family='Liberation Sans, sans-serif' font-weight="normal" font-size="100" fill="#2e2828" stroke="#2e2828" stroke-width="1.0">39</text>
<text transform="matrix(0.27079 0 0 0.24909 839.54 998.18)" font-family='Liberation Sans, sans-serif' font-weight="normal" font-size="100" fill="#2e2828" stroke="#2e2828" stroke-width="1.0">mm</text>
</svg>
</body></html>
